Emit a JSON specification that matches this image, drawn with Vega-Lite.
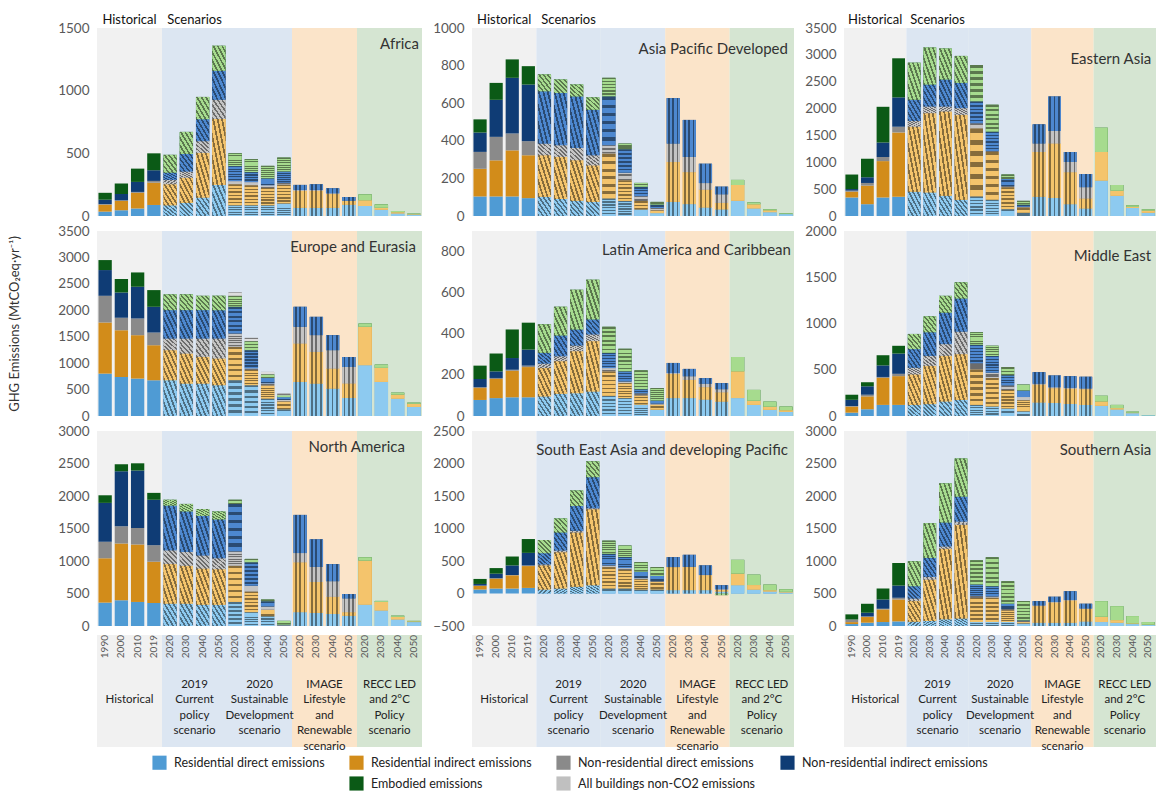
{
"$schema":"https://vega.github.io/schema/vega-lite/v6.json",
"padding":{"left":8,"top":13,"right":0,"bottom":0},
"datasets":{
"cats":[{"cat":"rd","o":1},{"cat":"ri","o":2},{"cat":"nrd","o":3},{"cat":"nri","o":4},{"cat":"emb","o":5},{"cat":"nc","o":6}],
"groups":[{"g":"H","lab":"|Historical"},{"g":"CP","lab":"2019|Current|policy|scenario"},{"g":"SD","lab":"2020|Sustainable|Development|scenario"},{"g":"IM","lab":"IMAGE|Lifestyle|and|Renewable|scenario"},{"g":"RE","lab":"RECC LED|and 2°C|Policy|scenario"}],
"bars":[
{"r":"AF","s":"H","k":"H1990","yr":"1990","rd":35,"ri":55,"nrd":5,"nri":35,"emb":55,"nc":0},
{"r":"AF","s":"H","k":"H2000","yr":"2000","rd":45,"ri":75,"nrd":5,"nri":50,"emb":85,"nc":0},
{"r":"AF","s":"H","k":"H2010","yr":"2010","rd":60,"ri":125,"nrd":7,"nri":80,"emb":106,"nc":0},
{"r":"AF","s":"H","k":"H2019","yr":"2019","rd":88,"ri":178,"nrd":14,"nri":85,"emb":135,"nc":0},
{"r":"AF","s":"CP","k":"CP2020","yr":"2020","rd":85,"ri":168,"nrd":35,"nri":58,"emb":142,"nc":0},
{"r":"AF","s":"CP","k":"CP2030","yr":"2030","rd":105,"ri":200,"nrd":50,"nri":140,"emb":176,"nc":0},
{"r":"AF","s":"CP","k":"CP2040","yr":"2040","rd":147,"ri":355,"nrd":95,"nri":175,"emb":178,"nc":0},
{"r":"AF","s":"CP","k":"CP2050","yr":"2050","rd":248,"ri":525,"nrd":154,"nri":232,"emb":200,"nc":0},
{"r":"AF","s":"SD","k":"SD2020","yr":"2020","rd":85,"ri":168,"nrd":25,"nri":120,"emb":102,"nc":0},
{"r":"AF","s":"SD","k":"SD2030","yr":"2030","rd":85,"ri":160,"nrd":25,"nri":80,"emb":103,"nc":0},
{"r":"AF","s":"SD","k":"SD2040","yr":"2040","rd":85,"ri":140,"nrd":20,"nri":55,"emb":100,"nc":0},
{"r":"AF","s":"SD","k":"SD2050","yr":"2050","rd":100,"ri":150,"nrd":15,"nri":90,"emb":111,"nc":0},
{"r":"AF","s":"IM","k":"IM2020","yr":"2020","rd":65,"ri":135,"nrd":8,"nri":40,"emb":0,"nc":0},
{"r":"AF","s":"IM","k":"IM2030","yr":"2030","rd":65,"ri":135,"nrd":8,"nri":45,"emb":0,"nc":0},
{"r":"AF","s":"IM","k":"IM2040","yr":"2040","rd":65,"ri":110,"nrd":6,"nri":40,"emb":0,"nc":0},
{"r":"AF","s":"IM","k":"IM2050","yr":"2050","rd":90,"ri":30,"nrd":2,"nri":30,"emb":0,"nc":0},
{"r":"AF","s":"RE","k":"RE2020","yr":"2020","rd":80,"ri":45,"nrd":0,"nri":0,"emb":48,"nc":0},
{"r":"AF","s":"RE","k":"RE2030","yr":"2030","rd":50,"ri":15,"nrd":0,"nri":0,"emb":28,"nc":0},
{"r":"AF","s":"RE","k":"RE2040","yr":"2040","rd":20,"ri":10,"nrd":0,"nri":0,"emb":10,"nc":0},
{"r":"AF","s":"RE","k":"RE2050","yr":"2050","rd":10,"ri":4,"nrd":0,"nri":0,"emb":5,"nc":0},
{"r":"AP","s":"H","k":"H1990","yr":"1990","rd":104,"ri":147,"nrd":90,"nri":103,"emb":70,"nc":0},
{"r":"AP","s":"H","k":"H2000","yr":"2000","rd":104,"ri":192,"nrd":125,"nri":197,"emb":90,"nc":0},
{"r":"AP","s":"H","k":"H2010","yr":"2010","rd":104,"ri":245,"nrd":90,"nri":296,"emb":98,"nc":0},
{"r":"AP","s":"H","k":"H2019","yr":"2019","rd":95,"ri":228,"nrd":75,"nri":301,"emb":98,"nc":0},
{"r":"AP","s":"CP","k":"CP2020","yr":"2020","rd":102,"ri":221,"nrd":62,"nri":278,"emb":90,"nc":0},
{"r":"AP","s":"CP","k":"CP2030","yr":"2030","rd":90,"ri":224,"nrd":62,"nri":278,"emb":72,"nc":0},
{"r":"AP","s":"CP","k":"CP2040","yr":"2040","rd":81,"ri":215,"nrd":66,"nri":274,"emb":63,"nc":0},
{"r":"AP","s":"CP","k":"CP2050","yr":"2050","rd":75,"ri":194,"nrd":54,"nri":242,"emb":66,"nc":0},
{"r":"AP","s":"SD","k":"SD2020","yr":"2020","rd":93,"ri":239,"nrd":44,"nri":260,"emb":99,"nc":0},
{"r":"AP","s":"SD","k":"SD2030","yr":"2030","rd":80,"ri":110,"nrd":40,"nri":125,"emb":30,"nc":0},
{"r":"AP","s":"SD","k":"SD2040","yr":"2040","rd":35,"ri":45,"nrd":25,"nri":50,"emb":21,"nc":0},
{"r":"AP","s":"SD","k":"SD2050","yr":"2050","rd":15,"ri":15,"nrd":12,"nri":18,"emb":15,"nc":0},
{"r":"AP","s":"IM","k":"IM2020","yr":"2020","rd":75,"ri":212,"nrd":98,"nri":242,"emb":0,"nc":0},
{"r":"AP","s":"IM","k":"IM2030","yr":"2030","rd":63,"ri":170,"nrd":81,"nri":197,"emb":0,"nc":0},
{"r":"AP","s":"IM","k":"IM2040","yr":"2040","rd":45,"ri":95,"nrd":35,"nri":103,"emb":0,"nc":0},
{"r":"AP","s":"IM","k":"IM2050","yr":"2050","rd":35,"ri":35,"nrd":45,"nri":41,"emb":0,"nc":0},
{"r":"AP","s":"RE","k":"RE2020","yr":"2020","rd":81,"ri":84,"nrd":0,"nri":0,"emb":27,"nc":0},
{"r":"AP","s":"RE","k":"RE2030","yr":"2030","rd":40,"ri":22,"nrd":0,"nri":0,"emb":10,"nc":0},
{"r":"AP","s":"RE","k":"RE2040","yr":"2040","rd":20,"ri":10,"nrd":0,"nri":0,"emb":6,"nc":0},
{"r":"AP","s":"RE","k":"RE2050","yr":"2050","rd":10,"ri":0,"nrd":0,"nri":0,"emb":4,"nc":0},
{"r":"EA","s":"H","k":"H1990","yr":"1990","rd":345,"ri":107,"nrd":20,"nri":30,"emb":270,"nc":0},
{"r":"EA","s":"H","k":"H2000","yr":"2000","rd":220,"ri":345,"nrd":50,"nri":106,"emb":345,"nc":0},
{"r":"EA","s":"H","k":"H2010","yr":"2010","rd":345,"ri":677,"nrd":76,"nri":270,"emb":665,"nc":0},
{"r":"EA","s":"H","k":"H2019","yr":"2019","rd":358,"ri":1198,"nrd":106,"nri":546,"emb":728,"nc":0},
{"r":"EA","s":"CP","k":"CP2020","yr":"2020","rd":452,"ri":1210,"nrd":107,"nri":395,"emb":690,"nc":0},
{"r":"EA","s":"CP","k":"CP2030","yr":"2030","rd":439,"ri":1474,"nrd":126,"nri":408,"emb":690,"nc":0},
{"r":"EA","s":"CP","k":"CP2040","yr":"2040","rd":376,"ri":1569,"nrd":94,"nri":502,"emb":577,"nc":0},
{"r":"EA","s":"CP","k":"CP2050","yr":"2050","rd":301,"ri":1581,"nrd":126,"nri":470,"emb":502,"nc":0},
{"r":"EA","s":"SD","k":"SD2020","yr":"2020","rd":364,"ri":1267,"nrd":94,"nri":408,"emb":678,"nc":0},
{"r":"EA","s":"SD","k":"SD2030","yr":"2030","rd":301,"ri":891,"nrd":20,"nri":356,"emb":502,"nc":0},
{"r":"EA","s":"SD","k":"SD2040","yr":"2040","rd":125,"ri":408,"nrd":20,"nri":137,"emb":82,"nc":0},
{"r":"EA","s":"SD","k":"SD2050","yr":"2050","rd":60,"ri":100,"nrd":10,"nri":40,"emb":72,"nc":0},
{"r":"EA","s":"IM","k":"IM2020","yr":"2020","rd":358,"ri":834,"nrd":157,"nri":357,"emb":0,"nc":0},
{"r":"EA","s":"IM","k":"IM2030","yr":"2030","rd":333,"ri":1016,"nrd":232,"nri":646,"emb":0,"nc":0},
{"r":"EA","s":"IM","k":"IM2040","yr":"2040","rd":220,"ri":596,"nrd":188,"nri":188,"emb":0,"nc":0},
{"r":"EA","s":"IM","k":"IM2050","yr":"2050","rd":138,"ri":188,"nrd":207,"nri":251,"emb":0,"nc":0},
{"r":"EA","s":"RE","k":"RE2020","yr":"2020","rd":659,"ri":533,"nrd":0,"nri":0,"emb":452,"nc":0},
{"r":"EA","s":"RE","k":"RE2030","yr":"2030","rd":376,"ri":94,"nrd":0,"nri":0,"emb":107,"nc":0},
{"r":"EA","s":"RE","k":"RE2040","yr":"2040","rd":150,"ri":20,"nrd":0,"nri":0,"emb":30,"nc":0},
{"r":"EA","s":"RE","k":"RE2050","yr":"2050","rd":60,"ri":40,"nrd":0,"nri":0,"emb":25,"nc":0},
{"r":"EU","s":"H","k":"H1990","yr":"1990","rd":802,"ri":967,"nrd":505,"nri":487,"emb":189,"nc":0},
{"r":"EU","s":"H","k":"H2000","yr":"2000","rd":739,"ri":885,"nrd":233,"nri":480,"emb":253,"nc":0},
{"r":"EU","s":"H","k":"H2010","yr":"2010","rd":708,"ri":821,"nrd":316,"nri":600,"emb":271,"nc":0},
{"r":"EU","s":"H","k":"H2019","yr":"2019","rd":676,"ri":663,"nrd":240,"nri":487,"emb":316,"nc":0},
{"r":"EU","s":"CP","k":"CP2020","yr":"2020","rd":676,"ri":569,"nrd":221,"nri":537,"emb":297,"nc":0},
{"r":"EU","s":"CP","k":"CP2030","yr":"2030","rd":613,"ri":568,"nrd":285,"nri":537,"emb":297,"nc":0},
{"r":"EU","s":"CP","k":"CP2040","yr":"2040","rd":613,"ri":505,"nrd":348,"nri":537,"emb":271,"nc":0},
{"r":"EU","s":"CP","k":"CP2050","yr":"2050","rd":581,"ri":506,"nrd":379,"nri":537,"emb":271,"nc":0},
{"r":"EU","s":"SD","k":"SD2020","yr":"2020","rd":676,"ri":632,"nrd":252,"nri":506,"emb":208,"nc":63},
{"r":"EU","s":"SD","k":"SD2030","yr":"2030","rd":581,"ri":290,"nrd":30,"nri":343,"emb":171,"nc":63},
{"r":"EU","s":"SD","k":"SD2040","yr":"2040","rd":328,"ri":250,"nrd":40,"nri":100,"emb":70,"nc":46},
{"r":"EU","s":"SD","k":"SD2050","yr":"2050","rd":126,"ri":150,"nrd":30,"nri":50,"emb":35,"nc":32},
{"r":"EU","s":"IM","k":"IM2020","yr":"2020","rd":644,"ri":727,"nrd":316,"nri":379,"emb":0,"nc":0},
{"r":"EU","s":"IM","k":"IM2030","yr":"2030","rd":613,"ri":600,"nrd":316,"nri":347,"emb":0,"nc":0},
{"r":"EU","s":"IM","k":"IM2040","yr":"2040","rd":518,"ri":379,"nrd":347,"nri":285,"emb":0,"nc":0},
{"r":"EU","s":"IM","k":"IM2050","yr":"2050","rd":341,"ri":272,"nrd":316,"nri":189,"emb":0,"nc":0},
{"r":"EU","s":"RE","k":"RE2020","yr":"2020","rd":960,"ri":727,"nrd":0,"nri":0,"emb":63,"nc":0},
{"r":"EU","s":"RE","k":"RE2030","yr":"2030","rd":644,"ri":266,"nrd":0,"nri":0,"emb":63,"nc":0},
{"r":"EU","s":"RE","k":"RE2040","yr":"2040","rd":328,"ri":76,"nrd":0,"nri":0,"emb":38,"nc":0},
{"r":"EU","s":"RE","k":"RE2050","yr":"2050","rd":171,"ri":60,"nrd":0,"nri":0,"emb":22,"nc":0},
{"r":"LA","s":"H","k":"H1990","yr":"1990","rd":78,"ri":58,"nrd":5,"nri":39,"emb":65,"nc":0},
{"r":"LA","s":"H","k":"H2000","yr":"2000","rd":87,"ri":93,"nrd":5,"nri":32,"emb":87,"nc":0},
{"r":"LA","s":"H","k":"H2010","yr":"2010","rd":91,"ri":129,"nrd":5,"nri":57,"emb":139,"nc":0},
{"r":"LA","s":"H","k":"H2019","yr":"2019","rd":91,"ri":147,"nrd":7,"nri":78,"emb":131,"nc":0},
{"r":"LA","s":"CP","k":"CP2020","yr":"2020","rd":95,"ri":138,"nrd":22,"nri":52,"emb":139,"nc":0},
{"r":"LA","s":"CP","k":"CP2030","yr":"2030","rd":108,"ri":158,"nrd":25,"nri":101,"emb":140,"nc":0},
{"r":"LA","s":"CP","k":"CP2040","yr":"2040","rd":111,"ri":204,"nrd":28,"nri":78,"emb":193,"nc":0},
{"r":"LA","s":"CP","k":"CP2050","yr":"2050","rd":119,"ri":245,"nrd":33,"nri":73,"emb":193,"nc":0},
{"r":"LA","s":"SD","k":"SD2020","yr":"2020","rd":98,"ri":119,"nrd":16,"nri":74,"emb":127,"nc":0},
{"r":"LA","s":"SD","k":"SD2030","yr":"2030","rd":87,"ri":73,"nrd":8,"nri":49,"emb":110,"nc":0},
{"r":"LA","s":"SD","k":"SD2040","yr":"2040","rd":55,"ri":45,"nrd":10,"nri":20,"emb":92,"nc":0},
{"r":"LA","s":"SD","k":"SD2050","yr":"2050","rd":30,"ri":25,"nrd":5,"nri":15,"emb":61,"nc":0},
{"r":"LA","s":"IM","k":"IM2020","yr":"2020","rd":87,"ri":117,"nrd":5,"nri":49,"emb":0,"nc":0},
{"r":"LA","s":"IM","k":"IM2030","yr":"2030","rd":87,"ri":89,"nrd":17,"nri":36,"emb":0,"nc":0},
{"r":"LA","s":"IM","k":"IM2040","yr":"2040","rd":80,"ri":60,"nrd":17,"nri":27,"emb":0,"nc":0},
{"r":"LA","s":"IM","k":"IM2050","yr":"2050","rd":70,"ri":45,"nrd":15,"nri":30,"emb":0,"nc":0},
{"r":"LA","s":"RE","k":"RE2020","yr":"2020","rd":87,"ri":130,"nrd":0,"nri":0,"emb":70,"nc":0},
{"r":"LA","s":"RE","k":"RE2030","yr":"2030","rd":54,"ri":20,"nrd":0,"nri":0,"emb":53,"nc":0},
{"r":"LA","s":"RE","k":"RE2040","yr":"2040","rd":30,"ri":15,"nrd":0,"nri":0,"emb":25,"nc":0},
{"r":"LA","s":"RE","k":"RE2050","yr":"2050","rd":20,"ri":8,"nrd":0,"nri":0,"emb":18,"nc":0},
{"r":"ME","s":"H","k":"H1990","yr":"1990","rd":36,"ri":66,"nrd":5,"nri":68,"emb":55,"nc":0},
{"r":"ME","s":"H","k":"H2000","yr":"2000","rd":73,"ri":139,"nrd":18,"nri":91,"emb":44,"nc":0},
{"r":"ME","s":"H","k":"H2010","yr":"2010","rd":120,"ri":292,"nrd":10,"nri":125,"emb":110,"nc":0},
{"r":"ME","s":"H","k":"H2019","yr":"2019","rd":120,"ri":311,"nrd":25,"nri":219,"emb":84,"nc":0},
{"r":"ME","s":"CP","k":"CP2020","yr":"2020","rd":120,"ri":329,"nrd":73,"nri":201,"emb":164,"nc":0},
{"r":"ME","s":"CP","k":"CP2030","yr":"2030","rd":128,"ri":412,"nrd":110,"nri":255,"emb":172,"nc":0},
{"r":"ME","s":"CP","k":"CP2040","yr":"2040","rd":157,"ri":493,"nrd":127,"nri":340,"emb":182,"nc":0},
{"r":"ME","s":"CP","k":"CP2050","yr":"2050","rd":175,"ri":493,"nrd":244,"nri":358,"emb":175,"nc":0},
{"r":"ME","s":"SD","k":"SD2020","yr":"2020","rd":120,"ri":384,"nrd":65,"nri":200,"emb":136,"nc":0},
{"r":"ME","s":"SD","k":"SD2030","yr":"2030","rd":102,"ri":310,"nrd":55,"nri":183,"emb":109,"nc":0},
{"r":"ME","s":"SD","k":"SD2040","yr":"2040","rd":80,"ri":200,"nrd":50,"nri":110,"emb":89,"nc":0},
{"r":"ME","s":"SD","k":"SD2050","yr":"2050","rd":50,"ri":120,"nrd":35,"nri":70,"emb":64,"nc":0},
{"r":"ME","s":"IM","k":"IM2020","yr":"2020","rd":146,"ri":193,"nrd":10,"nri":125,"emb":0,"nc":0},
{"r":"ME","s":"IM","k":"IM2030","yr":"2030","rd":140,"ri":160,"nrd":10,"nri":128,"emb":0,"nc":0},
{"r":"ME","s":"IM","k":"IM2040","yr":"2040","rd":130,"ri":165,"nrd":10,"nri":126,"emb":0,"nc":0},
{"r":"ME","s":"IM","k":"IM2050","yr":"2050","rd":120,"ri":170,"nrd":8,"nri":125,"emb":0,"nc":0},
{"r":"ME","s":"RE","k":"RE2020","yr":"2020","rd":110,"ri":47,"nrd":0,"nri":0,"emb":62,"nc":0},
{"r":"ME","s":"RE","k":"RE2030","yr":"2030","rd":70,"ri":15,"nrd":0,"nri":0,"emb":35,"nc":0},
{"r":"ME","s":"RE","k":"RE2040","yr":"2040","rd":30,"ri":5,"nrd":0,"nri":0,"emb":12,"nc":0},
{"r":"ME","s":"RE","k":"RE2050","yr":"2050","rd":8,"ri":0,"nrd":0,"nri":0,"emb":3,"nc":0},
{"r":"NA","s":"H","k":"H1990","yr":"1990","rd":360,"ri":682,"nrd":254,"nri":598,"emb":117,"nc":0},
{"r":"NA","s":"H","k":"H2000","yr":"2000","rd":397,"ri":873,"nrd":264,"nri":847,"emb":106,"nc":0},
{"r":"NA","s":"H","k":"H2010","yr":"2010","rd":370,"ri":884,"nrd":254,"nri":884,"emb":111,"nc":0},
{"r":"NA","s":"H","k":"H2019","yr":"2019","rd":354,"ri":635,"nrd":254,"nri":699,"emb":106,"nc":0},
{"r":"NA","s":"CP","k":"CP2020","yr":"2020","rd":344,"ri":608,"nrd":212,"nri":688,"emb":90,"nc":0},
{"r":"NA","s":"CP","k":"CP2030","yr":"2030","rd":344,"ri":582,"nrd":212,"nri":624,"emb":116,"nc":0},
{"r":"NA","s":"CP","k":"CP2040","yr":"2040","rd":328,"ri":556,"nrd":201,"nri":608,"emb":106,"nc":0},
{"r":"NA","s":"CP","k":"CP2050","yr":"2050","rd":328,"ri":545,"nrd":169,"nri":598,"emb":122,"nc":0},
{"r":"NA","s":"SD","k":"SD2020","yr":"2020","rd":370,"ri":556,"nrd":222,"nri":730,"emb":64,"nc":0},
{"r":"NA","s":"SD","k":"SD2030","yr":"2030","rd":212,"ri":317,"nrd":90,"nri":360,"emb":53,"nc":0},
{"r":"NA","s":"SD","k":"SD2040","yr":"2040","rd":150,"ri":100,"nrd":50,"nri":80,"emb":27,"nc":0},
{"r":"NA","s":"SD","k":"SD2050","yr":"2050","rd":5,"ri":5,"nrd":0,"nri":10,"emb":59,"nc":0},
{"r":"NA","s":"IM","k":"IM2020","yr":"2020","rd":212,"ri":767,"nrd":143,"nri":587,"emb":0,"nc":0},
{"r":"NA","s":"IM","k":"IM2030","yr":"2030","rd":201,"ri":476,"nrd":233,"nri":423,"emb":0,"nc":0},
{"r":"NA","s":"IM","k":"IM2040","yr":"2040","rd":185,"ri":265,"nrd":238,"nri":264,"emb":0,"nc":0},
{"r":"NA","s":"IM","k":"IM2050","yr":"2050","rd":159,"ri":53,"nrd":211,"nri":69,"emb":0,"nc":0},
{"r":"NA","s":"RE","k":"RE2020","yr":"2020","rd":328,"ri":677,"nrd":0,"nri":0,"emb":53,"nc":0},
{"r":"NA","s":"RE","k":"RE2030","yr":"2030","rd":238,"ri":132,"nrd":0,"nri":0,"emb":16,"nc":0},
{"r":"NA","s":"RE","k":"RE2040","yr":"2040","rd":100,"ri":40,"nrd":0,"nri":0,"emb":19,"nc":0},
{"r":"NA","s":"RE","k":"RE2050","yr":"2050","rd":60,"ri":10,"nrd":0,"nri":0,"emb":9,"nc":0},
{"r":"SE","s":"H","k":"H1990","yr":"1990","rd":61,"ri":56,"nrd":5,"nri":25,"emb":77,"nc":0},
{"r":"SE","s":"H","k":"H2000","yr":"2000","rd":76,"ri":153,"nrd":5,"nri":71,"emb":86,"nc":0},
{"r":"SE","s":"H","k":"H2010","yr":"2010","rd":76,"ri":204,"nrd":5,"nri":147,"emb":137,"nc":0},
{"r":"SE","s":"H","k":"H2019","yr":"2019","rd":86,"ri":336,"nrd":10,"nri":193,"emb":213,"nc":0},
{"r":"SE","s":"CP","k":"CP2020","yr":"2020","rd":61,"ri":371,"nrd":15,"nri":173,"emb":203,"nc":0},
{"r":"SE","s":"CP","k":"CP2030","yr":"2030","rd":76,"ri":559,"nrd":25,"nri":280,"emb":213,"nc":0},
{"r":"SE","s":"CP","k":"CP2040","yr":"2040","rd":102,"ri":838,"nrd":25,"nri":381,"emb":239,"nc":0},
{"r":"SE","s":"CP","k":"CP2050","yr":"2050","rd":127,"ri":1169,"nrd":15,"nri":478,"emb":244,"nc":0},
{"r":"SE","s":"SD","k":"SD2020","yr":"2020","rd":76,"ri":330,"nrd":26,"nri":178,"emb":203,"nc":0},
{"r":"SE","s":"SD","k":"SD2030","yr":"2030","rd":76,"ri":290,"nrd":25,"nri":170,"emb":176,"nc":0},
{"r":"SE","s":"SD","k":"SD2040","yr":"2040","rd":60,"ri":160,"nrd":15,"nri":100,"emb":148,"nc":0},
{"r":"SE","s":"SD","k":"SD2050","yr":"2050","rd":60,"ri":120,"nrd":10,"nri":80,"emb":136,"nc":0},
{"r":"SE","s":"IM","k":"IM2020","yr":"2020","rd":51,"ri":355,"nrd":0,"nri":153,"emb":0,"nc":0},
{"r":"SE","s":"IM","k":"IM2030","yr":"2030","rd":51,"ri":355,"nrd":5,"nri":184,"emb":0,"nc":0},
{"r":"SE","s":"IM","k":"IM2040","yr":"2040","rd":51,"ri":230,"nrd":5,"nri":146,"emb":0,"nc":0},
{"r":"SE","s":"IM","k":"IM2050","yr":"2050","rd":30,"ri":25,"nrd":10,"nri":62,"emb":-25,"nc":0},
{"r":"SE","s":"RE","k":"RE2020","yr":"2020","rd":127,"ri":178,"nrd":0,"nri":0,"emb":213,"nc":0},
{"r":"SE","s":"RE","k":"RE2030","yr":"2030","rd":60,"ri":70,"nrd":0,"nri":0,"emb":160,"nc":0},
{"r":"SE","s":"RE","k":"RE2040","yr":"2040","rd":30,"ri":20,"nrd":0,"nri":0,"emb":87,"nc":0},
{"r":"SE","s":"RE","k":"RE2050","yr":"2050","rd":15,"ri":10,"nrd":0,"nri":0,"emb":41,"nc":0},
{"r":"SA","s":"H","k":"H1990","yr":"1990","rd":30,"ri":30,"nrd":40,"nri":0,"emb":79,"nc":0},
{"r":"SA","s":"H","k":"H2000","yr":"2000","rd":51,"ri":87,"nrd":10,"nri":56,"emb":138,"nc":0},
{"r":"SA","s":"H","k":"H2010","yr":"2010","rd":61,"ri":194,"nrd":10,"nri":143,"emb":169,"nc":0},
{"r":"SA","s":"H","k":"H2019","yr":"2019","rd":71,"ri":337,"nrd":26,"nri":188,"emb":347,"nc":0},
{"r":"SA","s":"CP","k":"CP2020","yr":"2020","rd":66,"ri":317,"nrd":40,"nri":189,"emb":383,"nc":0},
{"r":"SA","s":"CP","k":"CP2030","yr":"2030","rd":77,"ri":637,"nrd":41,"nri":291,"emb":536,"nc":0},
{"r":"SA","s":"CP","k":"CP2040","yr":"2040","rd":102,"ri":1087,"nrd":35,"nri":368,"emb":602,"nc":0},
{"r":"SA","s":"CP","k":"CP2050","yr":"2050","rd":117,"ri":1439,"nrd":51,"nri":383,"emb":587,"nc":0},
{"r":"SA","s":"SD","k":"SD2020","yr":"2020","rd":61,"ri":373,"nrd":30,"nri":174,"emb":372,"nc":0},
{"r":"SA","s":"SD","k":"SD2030","yr":"2030","rd":61,"ri":373,"nrd":20,"nri":158,"emb":444,"nc":0},
{"r":"SA","s":"SD","k":"SD2040","yr":"2040","rd":61,"ri":180,"nrd":20,"nri":80,"emb":348,"nc":0},
{"r":"SA","s":"SD","k":"SD2050","yr":"2050","rd":40,"ri":20,"nrd":15,"nri":10,"emb":298,"nc":0},
{"r":"SA","s":"IM","k":"IM2020","yr":"2020","rd":51,"ri":255,"nrd":10,"nri":67,"emb":0,"nc":0},
{"r":"SA","s":"IM","k":"IM2030","yr":"2030","rd":51,"ri":310,"nrd":10,"nri":78,"emb":0,"nc":0},
{"r":"SA","s":"IM","k":"IM2040","yr":"2040","rd":51,"ri":340,"nrd":10,"nri":135,"emb":0,"nc":0},
{"r":"SA","s":"IM","k":"IM2050","yr":"2050","rd":70,"ri":190,"nrd":10,"nri":72,"emb":0,"nc":0},
{"r":"SA","s":"RE","k":"RE2020","yr":"2020","rd":61,"ri":80,"nrd":0,"nri":0,"emb":242,"nc":0},
{"r":"SA","s":"RE","k":"RE2030","yr":"2030","rd":50,"ri":40,"nrd":0,"nri":0,"emb":216,"nc":0},
{"r":"SA","s":"RE","k":"RE2040","yr":"2040","rd":30,"ri":10,"nrd":0,"nri":0,"emb":113,"nc":0},
{"r":"SA","s":"RE","k":"RE2050","yr":"2050","rd":15,"ri":5,"nrd":0,"nri":0,"emb":41,"nc":0}
]},
"vconcat":[
{"hconcat":[
{"width":325,"height":188,"layer":[
{"data":{"name":"groups"},"mark":{"type":"bar","opacity":0.75},"encoding":{"x":{"field":"g","type":"nominal","scale":{"domain":["H","CP","SD","IM","RE"],"paddingInner":0,"paddingOuter":0},"axis":{"orient":"top","title":null,"ticks":false,"domain":false,"labelAngle":0,"labelFontSize":13,"labelColor":"#111","labelPadding":2,"labelOverlap":false,"labelExpr":"datum.value=='H'?'Historical':datum.value=='CP'?'Scenarios':''"}},"y":{"datum":1500,"type":"quantitative"},"y2":{"datum":0},"color":{"condition":[{"test":"datum.g=='H'","value":"#ececec"},{"test":"datum.g=='IM'","value":"#fadbb7"},{"test":"datum.g=='RE'","value":"#c7dcc3"}],"value":"#d0deee"}}},
{"data":{"name":"bars"},"transform":[{"filter":"datum.r=='AF'"},{"fold":["rd","ri","nrd","nri","emb","nc"],"as":["cat","v"]},{"lookup":"cat","from":{"data":{"name":"cats"},"key":"cat","fields":["o"]}}],"layer":[
{"mark":"bar","encoding":{"x":{"field":"k","type":"nominal","scale":{"domain":["H1990","H2000","H2010","H2019","CP2020","CP2030","CP2040","CP2050","SD2020","SD2030","SD2040","SD2050","IM2020","IM2030","IM2040","IM2050","RE2020","RE2030","RE2040","RE2050"],"paddingInner":0.18,"paddingOuter":0.09},"axis":null},"y":{"field":"v","type":"quantitative","scale":{"domain":[0,1500],"nice":false},"axis":{"values":[0,500,1000,1500],"tickCount":12,"labelOverlap":false,"title":"G","titleColor":"transparent","titleFontSize":13,"titlePadding":36}},"order":{"field":"o","type":"quantitative"},"color":{"field":"cat","type":"nominal","scale":{"domain":["rd","ri","nrd","nri","_","emb","nc"],"range":["#4f9bd4","#d28c1a","#8a8a8a","#0f3c75","rgba(0,0,0,0)","#0b5a16","#c0c0c0"]},"legend":{"title":null,"orient":"none","legendX":55,"legendY":727,"columns":4,"direction":"horizontal","labelExpr":"datum.label=='rd'?'Residential direct emissions':datum.label=='ri'?'Residential indirect emissions':datum.label=='nrd'?'Non-residential direct emissions':datum.label=='nri'?'Non-residential indirect emissions':datum.label=='emb'?'Embodied emissions':datum.label=='nc'?'All buildings non-CO2 emissions':''"}}}},
{"transform":[{"filter":"datum.s!='H'"}],"mark":"bar","encoding":{"x":{"field":"k","type":"nominal"},"y":{"field":"v","type":"quantitative"},"order":{"field":"o","type":"quantitative"},"detail":{"field":"cat","type":"nominal"},"color":{"condition":[{"test":"datum.cat=='rd'","value":"#8dcaf0"},{"test":"datum.cat=='ri'","value":"#f4c46c"},{"test":"datum.cat=='nrd'","value":"#c4c4c4"},{"test":"datum.cat=='nri'","value":"#4d88d0"},{"test":"datum.cat=='emb'","value":"#a6db8e"}],"value":"#dddddd"}}},
{"transform":[{"filter":"datum.s!='H'&&datum.s!='RE'"}],"mark":"bar","encoding":{"x":{"field":"k","type":"nominal"},"y":{"field":"v","type":"quantitative"},"order":{"field":"o","type":"quantitative"},"detail":{"field":"cat","type":"nominal"},"color":{"condition":[{"test":"datum.s=='CP'","value":{"gradient":"linear","x1":0,"y1":1,"x2":1,"y2":0,"stops":[{"offset":0,"color":"rgba(0,0,0,0.45)"},{"offset":0.07,"color":"rgba(0,0,0,0.45)"},{"offset":0.07,"color":"transparent"},{"offset":0.1667,"color":"transparent"},{"offset":0.1667,"color":"rgba(0,0,0,0.45)"},{"offset":0.2367,"color":"rgba(0,0,0,0.45)"},{"offset":0.2367,"color":"transparent"},{"offset":0.3333,"color":"transparent"},{"offset":0.3333,"color":"rgba(0,0,0,0.45)"},{"offset":0.4033,"color":"rgba(0,0,0,0.45)"},{"offset":0.4033,"color":"transparent"},{"offset":0.5,"color":"transparent"},{"offset":0.5,"color":"rgba(0,0,0,0.45)"},{"offset":0.57,"color":"rgba(0,0,0,0.45)"},{"offset":0.57,"color":"transparent"},{"offset":0.6667,"color":"transparent"},{"offset":0.6667,"color":"rgba(0,0,0,0.45)"},{"offset":0.7367,"color":"rgba(0,0,0,0.45)"},{"offset":0.7367,"color":"transparent"},{"offset":0.8333,"color":"transparent"},{"offset":0.8333,"color":"rgba(0,0,0,0.45)"},{"offset":0.9033,"color":"rgba(0,0,0,0.45)"},{"offset":0.9033,"color":"transparent"},{"offset":1,"color":"transparent"}]}},{"test":"datum.s=='SD'","value":{"gradient":"linear","x1":0,"y1":0,"x2":0,"y2":1,"stops":[{"offset":0,"color":"rgba(0,0,0,0.45)"},{"offset":0.07,"color":"rgba(0,0,0,0.45)"},{"offset":0.07,"color":"transparent"},{"offset":0.1667,"color":"transparent"},{"offset":0.1667,"color":"rgba(0,0,0,0.45)"},{"offset":0.2367,"color":"rgba(0,0,0,0.45)"},{"offset":0.2367,"color":"transparent"},{"offset":0.3333,"color":"transparent"},{"offset":0.3333,"color":"rgba(0,0,0,0.45)"},{"offset":0.4033,"color":"rgba(0,0,0,0.45)"},{"offset":0.4033,"color":"transparent"},{"offset":0.5,"color":"transparent"},{"offset":0.5,"color":"rgba(0,0,0,0.45)"},{"offset":0.57,"color":"rgba(0,0,0,0.45)"},{"offset":0.57,"color":"transparent"},{"offset":0.6667,"color":"transparent"},{"offset":0.6667,"color":"rgba(0,0,0,0.45)"},{"offset":0.7367,"color":"rgba(0,0,0,0.45)"},{"offset":0.7367,"color":"transparent"},{"offset":0.8333,"color":"transparent"},{"offset":0.8333,"color":"rgba(0,0,0,0.45)"},{"offset":0.9033,"color":"rgba(0,0,0,0.45)"},{"offset":0.9033,"color":"transparent"},{"offset":1,"color":"transparent"}]}}],"value":{"gradient":"linear","x1":0,"y1":0,"x2":1,"y2":0,"stops":[{"offset":0,"color":"transparent"},{"offset":0.1,"color":"transparent"},{"offset":0.1,"color":"rgba(0,0,0,0.45)"},{"offset":0.23,"color":"rgba(0,0,0,0.45)"},{"offset":0.23,"color":"transparent"},{"offset":0.43,"color":"transparent"},{"offset":0.43,"color":"rgba(0,0,0,0.45)"},{"offset":0.56,"color":"rgba(0,0,0,0.45)"},{"offset":0.56,"color":"transparent"},{"offset":0.76,"color":"transparent"},{"offset":0.76,"color":"rgba(0,0,0,0.45)"},{"offset":0.89,"color":"rgba(0,0,0,0.45)"},{"offset":0.89,"color":"transparent"},{"offset":1,"color":"transparent"}]}}}},
{"data":{"values":[{}]},"mark":{"type":"text","align":"right","baseline":"top","dx":5,"dy":9,"fontSize":15,"color":"#333"},"encoding":{"x":{"datum":"RE2050","type":"nominal"},"y":{"datum":1500,"type":"quantitative"},"text":{"value":"Africa"}}}
]}
],"resolve":{"scale":{"x":"independent"}}},
{"width":322,"height":188,"layer":[
{"data":{"name":"groups"},"mark":{"type":"bar","opacity":0.75},"encoding":{"x":{"field":"g","type":"nominal","scale":{"domain":["H","CP","SD","IM","RE"],"paddingInner":0,"paddingOuter":0},"axis":{"orient":"top","title":null,"ticks":false,"domain":false,"labelAngle":0,"labelFontSize":13,"labelColor":"#111","labelPadding":2,"labelOverlap":false,"labelExpr":"datum.value=='H'?'Historical':datum.value=='CP'?'Scenarios':''"}},"y":{"datum":1000,"type":"quantitative"},"y2":{"datum":0},"color":{"condition":[{"test":"datum.g=='H'","value":"#ececec"},{"test":"datum.g=='IM'","value":"#fadbb7"},{"test":"datum.g=='RE'","value":"#c7dcc3"}],"value":"#d0deee"}}},
{"data":{"name":"bars"},"transform":[{"filter":"datum.r=='AP'"},{"fold":["rd","ri","nrd","nri","emb","nc"],"as":["cat","v"]},{"lookup":"cat","from":{"data":{"name":"cats"},"key":"cat","fields":["o"]}}],"layer":[
{"mark":"bar","encoding":{"x":{"field":"k","type":"nominal","scale":{"domain":["H1990","H2000","H2010","H2019","CP2020","CP2030","CP2040","CP2050","SD2020","SD2030","SD2040","SD2050","IM2020","IM2030","IM2040","IM2050","RE2020","RE2030","RE2040","RE2050"],"paddingInner":0.18,"paddingOuter":0.09},"axis":null},"y":{"field":"v","type":"quantitative","scale":{"domain":[0,1000],"nice":false},"axis":{"values":[0,200,400,600,800,1000],"tickCount":12,"labelOverlap":false,"title":null}},"order":{"field":"o","type":"quantitative"},"color":{"field":"cat","type":"nominal","scale":{"domain":["rd","ri","nrd","nri","_","emb","nc"],"range":["#4f9bd4","#d28c1a","#8a8a8a","#0f3c75","rgba(0,0,0,0)","#0b5a16","#c0c0c0"]},"legend":{"title":null,"orient":"none","legendX":55,"legendY":727,"columns":4,"direction":"horizontal","labelExpr":"datum.label=='rd'?'Residential direct emissions':datum.label=='ri'?'Residential indirect emissions':datum.label=='nrd'?'Non-residential direct emissions':datum.label=='nri'?'Non-residential indirect emissions':datum.label=='emb'?'Embodied emissions':datum.label=='nc'?'All buildings non-CO2 emissions':''"}}}},
{"transform":[{"filter":"datum.s!='H'"}],"mark":"bar","encoding":{"x":{"field":"k","type":"nominal"},"y":{"field":"v","type":"quantitative"},"order":{"field":"o","type":"quantitative"},"detail":{"field":"cat","type":"nominal"},"color":{"condition":[{"test":"datum.cat=='rd'","value":"#8dcaf0"},{"test":"datum.cat=='ri'","value":"#f4c46c"},{"test":"datum.cat=='nrd'","value":"#c4c4c4"},{"test":"datum.cat=='nri'","value":"#4d88d0"},{"test":"datum.cat=='emb'","value":"#a6db8e"}],"value":"#dddddd"}}},
{"transform":[{"filter":"datum.s!='H'&&datum.s!='RE'"}],"mark":"bar","encoding":{"x":{"field":"k","type":"nominal"},"y":{"field":"v","type":"quantitative"},"order":{"field":"o","type":"quantitative"},"detail":{"field":"cat","type":"nominal"},"color":{"condition":[{"test":"datum.s=='CP'","value":{"gradient":"linear","x1":0,"y1":1,"x2":1,"y2":0,"stops":[{"offset":0,"color":"rgba(0,0,0,0.45)"},{"offset":0.07,"color":"rgba(0,0,0,0.45)"},{"offset":0.07,"color":"transparent"},{"offset":0.1667,"color":"transparent"},{"offset":0.1667,"color":"rgba(0,0,0,0.45)"},{"offset":0.2367,"color":"rgba(0,0,0,0.45)"},{"offset":0.2367,"color":"transparent"},{"offset":0.3333,"color":"transparent"},{"offset":0.3333,"color":"rgba(0,0,0,0.45)"},{"offset":0.4033,"color":"rgba(0,0,0,0.45)"},{"offset":0.4033,"color":"transparent"},{"offset":0.5,"color":"transparent"},{"offset":0.5,"color":"rgba(0,0,0,0.45)"},{"offset":0.57,"color":"rgba(0,0,0,0.45)"},{"offset":0.57,"color":"transparent"},{"offset":0.6667,"color":"transparent"},{"offset":0.6667,"color":"rgba(0,0,0,0.45)"},{"offset":0.7367,"color":"rgba(0,0,0,0.45)"},{"offset":0.7367,"color":"transparent"},{"offset":0.8333,"color":"transparent"},{"offset":0.8333,"color":"rgba(0,0,0,0.45)"},{"offset":0.9033,"color":"rgba(0,0,0,0.45)"},{"offset":0.9033,"color":"transparent"},{"offset":1,"color":"transparent"}]}},{"test":"datum.s=='SD'","value":{"gradient":"linear","x1":0,"y1":0,"x2":0,"y2":1,"stops":[{"offset":0,"color":"rgba(0,0,0,0.45)"},{"offset":0.07,"color":"rgba(0,0,0,0.45)"},{"offset":0.07,"color":"transparent"},{"offset":0.1667,"color":"transparent"},{"offset":0.1667,"color":"rgba(0,0,0,0.45)"},{"offset":0.2367,"color":"rgba(0,0,0,0.45)"},{"offset":0.2367,"color":"transparent"},{"offset":0.3333,"color":"transparent"},{"offset":0.3333,"color":"rgba(0,0,0,0.45)"},{"offset":0.4033,"color":"rgba(0,0,0,0.45)"},{"offset":0.4033,"color":"transparent"},{"offset":0.5,"color":"transparent"},{"offset":0.5,"color":"rgba(0,0,0,0.45)"},{"offset":0.57,"color":"rgba(0,0,0,0.45)"},{"offset":0.57,"color":"transparent"},{"offset":0.6667,"color":"transparent"},{"offset":0.6667,"color":"rgba(0,0,0,0.45)"},{"offset":0.7367,"color":"rgba(0,0,0,0.45)"},{"offset":0.7367,"color":"transparent"},{"offset":0.8333,"color":"transparent"},{"offset":0.8333,"color":"rgba(0,0,0,0.45)"},{"offset":0.9033,"color":"rgba(0,0,0,0.45)"},{"offset":0.9033,"color":"transparent"},{"offset":1,"color":"transparent"}]}}],"value":{"gradient":"linear","x1":0,"y1":0,"x2":1,"y2":0,"stops":[{"offset":0,"color":"transparent"},{"offset":0.1,"color":"transparent"},{"offset":0.1,"color":"rgba(0,0,0,0.45)"},{"offset":0.23,"color":"rgba(0,0,0,0.45)"},{"offset":0.23,"color":"transparent"},{"offset":0.43,"color":"transparent"},{"offset":0.43,"color":"rgba(0,0,0,0.45)"},{"offset":0.56,"color":"rgba(0,0,0,0.45)"},{"offset":0.56,"color":"transparent"},{"offset":0.76,"color":"transparent"},{"offset":0.76,"color":"rgba(0,0,0,0.45)"},{"offset":0.89,"color":"rgba(0,0,0,0.45)"},{"offset":0.89,"color":"transparent"},{"offset":1,"color":"transparent"}]}}}},
{"data":{"values":[{}]},"mark":{"type":"text","align":"right","baseline":"top","dx":2,"dy":14,"fontSize":15,"color":"#333"},"encoding":{"x":{"datum":"RE2050","type":"nominal"},"y":{"datum":1000,"type":"quantitative"},"text":{"value":"Asia Pacific Developed"}}}
]}
],"resolve":{"scale":{"x":"independent"}}},
{"width":312,"height":188,"layer":[
{"data":{"name":"groups"},"mark":{"type":"bar","opacity":0.75},"encoding":{"x":{"field":"g","type":"nominal","scale":{"domain":["H","CP","SD","IM","RE"],"paddingInner":0,"paddingOuter":0},"axis":{"orient":"top","title":null,"ticks":false,"domain":false,"labelAngle":0,"labelFontSize":13,"labelColor":"#111","labelPadding":2,"labelOverlap":false,"labelExpr":"datum.value=='H'?'Historical':datum.value=='CP'?'Scenarios':''"}},"y":{"datum":3500,"type":"quantitative"},"y2":{"datum":0},"color":{"condition":[{"test":"datum.g=='H'","value":"#ececec"},{"test":"datum.g=='IM'","value":"#fadbb7"},{"test":"datum.g=='RE'","value":"#c7dcc3"}],"value":"#d0deee"}}},
{"data":{"name":"bars"},"transform":[{"filter":"datum.r=='EA'"},{"fold":["rd","ri","nrd","nri","emb","nc"],"as":["cat","v"]},{"lookup":"cat","from":{"data":{"name":"cats"},"key":"cat","fields":["o"]}}],"layer":[
{"mark":"bar","encoding":{"x":{"field":"k","type":"nominal","scale":{"domain":["H1990","H2000","H2010","H2019","CP2020","CP2030","CP2040","CP2050","SD2020","SD2030","SD2040","SD2050","IM2020","IM2030","IM2040","IM2050","RE2020","RE2030","RE2040","RE2050"],"paddingInner":0.18,"paddingOuter":0.09},"axis":null},"y":{"field":"v","type":"quantitative","scale":{"domain":[0,3500],"nice":false},"axis":{"values":[0,500,1000,1500,2000,2500,3000,3500],"tickCount":12,"labelOverlap":false,"title":null}},"order":{"field":"o","type":"quantitative"},"color":{"field":"cat","type":"nominal","scale":{"domain":["rd","ri","nrd","nri","_","emb","nc"],"range":["#4f9bd4","#d28c1a","#8a8a8a","#0f3c75","rgba(0,0,0,0)","#0b5a16","#c0c0c0"]},"legend":{"title":null,"orient":"none","legendX":55,"legendY":727,"columns":4,"direction":"horizontal","labelExpr":"datum.label=='rd'?'Residential direct emissions':datum.label=='ri'?'Residential indirect emissions':datum.label=='nrd'?'Non-residential direct emissions':datum.label=='nri'?'Non-residential indirect emissions':datum.label=='emb'?'Embodied emissions':datum.label=='nc'?'All buildings non-CO2 emissions':''"}}}},
{"transform":[{"filter":"datum.s!='H'"}],"mark":"bar","encoding":{"x":{"field":"k","type":"nominal"},"y":{"field":"v","type":"quantitative"},"order":{"field":"o","type":"quantitative"},"detail":{"field":"cat","type":"nominal"},"color":{"condition":[{"test":"datum.cat=='rd'","value":"#8dcaf0"},{"test":"datum.cat=='ri'","value":"#f4c46c"},{"test":"datum.cat=='nrd'","value":"#c4c4c4"},{"test":"datum.cat=='nri'","value":"#4d88d0"},{"test":"datum.cat=='emb'","value":"#a6db8e"}],"value":"#dddddd"}}},
{"transform":[{"filter":"datum.s!='H'&&datum.s!='RE'"}],"mark":"bar","encoding":{"x":{"field":"k","type":"nominal"},"y":{"field":"v","type":"quantitative"},"order":{"field":"o","type":"quantitative"},"detail":{"field":"cat","type":"nominal"},"color":{"condition":[{"test":"datum.s=='CP'","value":{"gradient":"linear","x1":0,"y1":1,"x2":1,"y2":0,"stops":[{"offset":0,"color":"rgba(0,0,0,0.45)"},{"offset":0.07,"color":"rgba(0,0,0,0.45)"},{"offset":0.07,"color":"transparent"},{"offset":0.1667,"color":"transparent"},{"offset":0.1667,"color":"rgba(0,0,0,0.45)"},{"offset":0.2367,"color":"rgba(0,0,0,0.45)"},{"offset":0.2367,"color":"transparent"},{"offset":0.3333,"color":"transparent"},{"offset":0.3333,"color":"rgba(0,0,0,0.45)"},{"offset":0.4033,"color":"rgba(0,0,0,0.45)"},{"offset":0.4033,"color":"transparent"},{"offset":0.5,"color":"transparent"},{"offset":0.5,"color":"rgba(0,0,0,0.45)"},{"offset":0.57,"color":"rgba(0,0,0,0.45)"},{"offset":0.57,"color":"transparent"},{"offset":0.6667,"color":"transparent"},{"offset":0.6667,"color":"rgba(0,0,0,0.45)"},{"offset":0.7367,"color":"rgba(0,0,0,0.45)"},{"offset":0.7367,"color":"transparent"},{"offset":0.8333,"color":"transparent"},{"offset":0.8333,"color":"rgba(0,0,0,0.45)"},{"offset":0.9033,"color":"rgba(0,0,0,0.45)"},{"offset":0.9033,"color":"transparent"},{"offset":1,"color":"transparent"}]}},{"test":"datum.s=='SD'","value":{"gradient":"linear","x1":0,"y1":0,"x2":0,"y2":1,"stops":[{"offset":0,"color":"rgba(0,0,0,0.45)"},{"offset":0.07,"color":"rgba(0,0,0,0.45)"},{"offset":0.07,"color":"transparent"},{"offset":0.1667,"color":"transparent"},{"offset":0.1667,"color":"rgba(0,0,0,0.45)"},{"offset":0.2367,"color":"rgba(0,0,0,0.45)"},{"offset":0.2367,"color":"transparent"},{"offset":0.3333,"color":"transparent"},{"offset":0.3333,"color":"rgba(0,0,0,0.45)"},{"offset":0.4033,"color":"rgba(0,0,0,0.45)"},{"offset":0.4033,"color":"transparent"},{"offset":0.5,"color":"transparent"},{"offset":0.5,"color":"rgba(0,0,0,0.45)"},{"offset":0.57,"color":"rgba(0,0,0,0.45)"},{"offset":0.57,"color":"transparent"},{"offset":0.6667,"color":"transparent"},{"offset":0.6667,"color":"rgba(0,0,0,0.45)"},{"offset":0.7367,"color":"rgba(0,0,0,0.45)"},{"offset":0.7367,"color":"transparent"},{"offset":0.8333,"color":"transparent"},{"offset":0.8333,"color":"rgba(0,0,0,0.45)"},{"offset":0.9033,"color":"rgba(0,0,0,0.45)"},{"offset":0.9033,"color":"transparent"},{"offset":1,"color":"transparent"}]}}],"value":{"gradient":"linear","x1":0,"y1":0,"x2":1,"y2":0,"stops":[{"offset":0,"color":"transparent"},{"offset":0.1,"color":"transparent"},{"offset":0.1,"color":"rgba(0,0,0,0.45)"},{"offset":0.23,"color":"rgba(0,0,0,0.45)"},{"offset":0.23,"color":"transparent"},{"offset":0.43,"color":"transparent"},{"offset":0.43,"color":"rgba(0,0,0,0.45)"},{"offset":0.56,"color":"rgba(0,0,0,0.45)"},{"offset":0.56,"color":"transparent"},{"offset":0.76,"color":"transparent"},{"offset":0.76,"color":"rgba(0,0,0,0.45)"},{"offset":0.89,"color":"rgba(0,0,0,0.45)"},{"offset":0.89,"color":"transparent"},{"offset":1,"color":"transparent"}]}}}},
{"data":{"values":[{}]},"mark":{"type":"text","align":"right","baseline":"top","dx":3,"dy":24,"fontSize":15,"color":"#333"},"encoding":{"x":{"datum":"RE2050","type":"nominal"},"y":{"datum":3500,"type":"quantitative"},"text":{"value":"Eastern Asia"}}}
]}
],"resolve":{"scale":{"x":"independent"}}}
],"spacing":50,"bounds":"flush"},
{"hconcat":[
{"width":325,"height":185,"layer":[
{"data":{"name":"groups"},"mark":{"type":"bar","opacity":0.75},"encoding":{"x":{"field":"g","type":"nominal","scale":{"domain":["H","CP","SD","IM","RE"],"paddingInner":0,"paddingOuter":0},"axis":null},"y":{"datum":3500,"type":"quantitative"},"y2":{"datum":0},"color":{"condition":[{"test":"datum.g=='H'","value":"#ececec"},{"test":"datum.g=='IM'","value":"#fadbb7"},{"test":"datum.g=='RE'","value":"#c7dcc3"}],"value":"#d0deee"}}},
{"data":{"name":"bars"},"transform":[{"filter":"datum.r=='EU'"},{"fold":["rd","ri","nrd","nri","emb","nc"],"as":["cat","v"]},{"lookup":"cat","from":{"data":{"name":"cats"},"key":"cat","fields":["o"]}}],"layer":[
{"mark":"bar","encoding":{"x":{"field":"k","type":"nominal","scale":{"domain":["H1990","H2000","H2010","H2019","CP2020","CP2030","CP2040","CP2050","SD2020","SD2030","SD2040","SD2050","IM2020","IM2030","IM2040","IM2050","RE2020","RE2030","RE2040","RE2050"],"paddingInner":0.18,"paddingOuter":0.09},"axis":null},"y":{"field":"v","type":"quantitative","scale":{"domain":[0,3500],"nice":false},"axis":{"values":[0,500,1000,1500,2000,2500,3000,3500],"tickCount":12,"labelOverlap":false,"title":"GHG Emissions (MtCO₂eq·yr⁻¹)","titleFontSize":13,"titleFontWeight":"normal","titleColor":"#333","titlePadding":36}},"order":{"field":"o","type":"quantitative"},"color":{"field":"cat","type":"nominal","scale":{"domain":["rd","ri","nrd","nri","_","emb","nc"],"range":["#4f9bd4","#d28c1a","#8a8a8a","#0f3c75","rgba(0,0,0,0)","#0b5a16","#c0c0c0"]},"legend":{"title":null,"orient":"none","legendX":55,"legendY":727,"columns":4,"direction":"horizontal","labelExpr":"datum.label=='rd'?'Residential direct emissions':datum.label=='ri'?'Residential indirect emissions':datum.label=='nrd'?'Non-residential direct emissions':datum.label=='nri'?'Non-residential indirect emissions':datum.label=='emb'?'Embodied emissions':datum.label=='nc'?'All buildings non-CO2 emissions':''"}}}},
{"transform":[{"filter":"datum.s!='H'"}],"mark":"bar","encoding":{"x":{"field":"k","type":"nominal"},"y":{"field":"v","type":"quantitative"},"order":{"field":"o","type":"quantitative"},"detail":{"field":"cat","type":"nominal"},"color":{"condition":[{"test":"datum.cat=='rd'","value":"#8dcaf0"},{"test":"datum.cat=='ri'","value":"#f4c46c"},{"test":"datum.cat=='nrd'","value":"#c4c4c4"},{"test":"datum.cat=='nri'","value":"#4d88d0"},{"test":"datum.cat=='emb'","value":"#a6db8e"}],"value":"#dddddd"}}},
{"transform":[{"filter":"datum.s!='H'&&datum.s!='RE'"}],"mark":"bar","encoding":{"x":{"field":"k","type":"nominal"},"y":{"field":"v","type":"quantitative"},"order":{"field":"o","type":"quantitative"},"detail":{"field":"cat","type":"nominal"},"color":{"condition":[{"test":"datum.s=='CP'","value":{"gradient":"linear","x1":0,"y1":1,"x2":1,"y2":0,"stops":[{"offset":0,"color":"rgba(0,0,0,0.45)"},{"offset":0.07,"color":"rgba(0,0,0,0.45)"},{"offset":0.07,"color":"transparent"},{"offset":0.1667,"color":"transparent"},{"offset":0.1667,"color":"rgba(0,0,0,0.45)"},{"offset":0.2367,"color":"rgba(0,0,0,0.45)"},{"offset":0.2367,"color":"transparent"},{"offset":0.3333,"color":"transparent"},{"offset":0.3333,"color":"rgba(0,0,0,0.45)"},{"offset":0.4033,"color":"rgba(0,0,0,0.45)"},{"offset":0.4033,"color":"transparent"},{"offset":0.5,"color":"transparent"},{"offset":0.5,"color":"rgba(0,0,0,0.45)"},{"offset":0.57,"color":"rgba(0,0,0,0.45)"},{"offset":0.57,"color":"transparent"},{"offset":0.6667,"color":"transparent"},{"offset":0.6667,"color":"rgba(0,0,0,0.45)"},{"offset":0.7367,"color":"rgba(0,0,0,0.45)"},{"offset":0.7367,"color":"transparent"},{"offset":0.8333,"color":"transparent"},{"offset":0.8333,"color":"rgba(0,0,0,0.45)"},{"offset":0.9033,"color":"rgba(0,0,0,0.45)"},{"offset":0.9033,"color":"transparent"},{"offset":1,"color":"transparent"}]}},{"test":"datum.s=='SD'","value":{"gradient":"linear","x1":0,"y1":0,"x2":0,"y2":1,"stops":[{"offset":0,"color":"rgba(0,0,0,0.45)"},{"offset":0.07,"color":"rgba(0,0,0,0.45)"},{"offset":0.07,"color":"transparent"},{"offset":0.1667,"color":"transparent"},{"offset":0.1667,"color":"rgba(0,0,0,0.45)"},{"offset":0.2367,"color":"rgba(0,0,0,0.45)"},{"offset":0.2367,"color":"transparent"},{"offset":0.3333,"color":"transparent"},{"offset":0.3333,"color":"rgba(0,0,0,0.45)"},{"offset":0.4033,"color":"rgba(0,0,0,0.45)"},{"offset":0.4033,"color":"transparent"},{"offset":0.5,"color":"transparent"},{"offset":0.5,"color":"rgba(0,0,0,0.45)"},{"offset":0.57,"color":"rgba(0,0,0,0.45)"},{"offset":0.57,"color":"transparent"},{"offset":0.6667,"color":"transparent"},{"offset":0.6667,"color":"rgba(0,0,0,0.45)"},{"offset":0.7367,"color":"rgba(0,0,0,0.45)"},{"offset":0.7367,"color":"transparent"},{"offset":0.8333,"color":"transparent"},{"offset":0.8333,"color":"rgba(0,0,0,0.45)"},{"offset":0.9033,"color":"rgba(0,0,0,0.45)"},{"offset":0.9033,"color":"transparent"},{"offset":1,"color":"transparent"}]}}],"value":{"gradient":"linear","x1":0,"y1":0,"x2":1,"y2":0,"stops":[{"offset":0,"color":"transparent"},{"offset":0.1,"color":"transparent"},{"offset":0.1,"color":"rgba(0,0,0,0.45)"},{"offset":0.23,"color":"rgba(0,0,0,0.45)"},{"offset":0.23,"color":"transparent"},{"offset":0.43,"color":"transparent"},{"offset":0.43,"color":"rgba(0,0,0,0.45)"},{"offset":0.56,"color":"rgba(0,0,0,0.45)"},{"offset":0.56,"color":"transparent"},{"offset":0.76,"color":"transparent"},{"offset":0.76,"color":"rgba(0,0,0,0.45)"},{"offset":0.89,"color":"rgba(0,0,0,0.45)"},{"offset":0.89,"color":"transparent"},{"offset":1,"color":"transparent"}]}}}},
{"data":{"values":[{}]},"mark":{"type":"text","align":"right","baseline":"top","dx":2,"dy":9,"fontSize":15,"color":"#333"},"encoding":{"x":{"datum":"RE2050","type":"nominal"},"y":{"datum":3500,"type":"quantitative"},"text":{"value":"Europe and Eurasia"}}}
]}
],"resolve":{"scale":{"x":"independent"}}},
{"width":322,"height":185,"layer":[
{"data":{"name":"groups"},"mark":{"type":"bar","opacity":0.75},"encoding":{"x":{"field":"g","type":"nominal","scale":{"domain":["H","CP","SD","IM","RE"],"paddingInner":0,"paddingOuter":0},"axis":null},"y":{"datum":900,"type":"quantitative"},"y2":{"datum":0},"color":{"condition":[{"test":"datum.g=='H'","value":"#ececec"},{"test":"datum.g=='IM'","value":"#fadbb7"},{"test":"datum.g=='RE'","value":"#c7dcc3"}],"value":"#d0deee"}}},
{"data":{"name":"bars"},"transform":[{"filter":"datum.r=='LA'"},{"fold":["rd","ri","nrd","nri","emb","nc"],"as":["cat","v"]},{"lookup":"cat","from":{"data":{"name":"cats"},"key":"cat","fields":["o"]}}],"layer":[
{"mark":"bar","encoding":{"x":{"field":"k","type":"nominal","scale":{"domain":["H1990","H2000","H2010","H2019","CP2020","CP2030","CP2040","CP2050","SD2020","SD2030","SD2040","SD2050","IM2020","IM2030","IM2040","IM2050","RE2020","RE2030","RE2040","RE2050"],"paddingInner":0.18,"paddingOuter":0.09},"axis":null},"y":{"field":"v","type":"quantitative","scale":{"domain":[0,900],"nice":false},"axis":{"values":[0,200,400,600,800],"tickCount":12,"labelOverlap":false,"title":null}},"order":{"field":"o","type":"quantitative"},"color":{"field":"cat","type":"nominal","scale":{"domain":["rd","ri","nrd","nri","_","emb","nc"],"range":["#4f9bd4","#d28c1a","#8a8a8a","#0f3c75","rgba(0,0,0,0)","#0b5a16","#c0c0c0"]},"legend":{"title":null,"orient":"none","legendX":55,"legendY":727,"columns":4,"direction":"horizontal","labelExpr":"datum.label=='rd'?'Residential direct emissions':datum.label=='ri'?'Residential indirect emissions':datum.label=='nrd'?'Non-residential direct emissions':datum.label=='nri'?'Non-residential indirect emissions':datum.label=='emb'?'Embodied emissions':datum.label=='nc'?'All buildings non-CO2 emissions':''"}}}},
{"transform":[{"filter":"datum.s!='H'"}],"mark":"bar","encoding":{"x":{"field":"k","type":"nominal"},"y":{"field":"v","type":"quantitative"},"order":{"field":"o","type":"quantitative"},"detail":{"field":"cat","type":"nominal"},"color":{"condition":[{"test":"datum.cat=='rd'","value":"#8dcaf0"},{"test":"datum.cat=='ri'","value":"#f4c46c"},{"test":"datum.cat=='nrd'","value":"#c4c4c4"},{"test":"datum.cat=='nri'","value":"#4d88d0"},{"test":"datum.cat=='emb'","value":"#a6db8e"}],"value":"#dddddd"}}},
{"transform":[{"filter":"datum.s!='H'&&datum.s!='RE'"}],"mark":"bar","encoding":{"x":{"field":"k","type":"nominal"},"y":{"field":"v","type":"quantitative"},"order":{"field":"o","type":"quantitative"},"detail":{"field":"cat","type":"nominal"},"color":{"condition":[{"test":"datum.s=='CP'","value":{"gradient":"linear","x1":0,"y1":1,"x2":1,"y2":0,"stops":[{"offset":0,"color":"rgba(0,0,0,0.45)"},{"offset":0.07,"color":"rgba(0,0,0,0.45)"},{"offset":0.07,"color":"transparent"},{"offset":0.1667,"color":"transparent"},{"offset":0.1667,"color":"rgba(0,0,0,0.45)"},{"offset":0.2367,"color":"rgba(0,0,0,0.45)"},{"offset":0.2367,"color":"transparent"},{"offset":0.3333,"color":"transparent"},{"offset":0.3333,"color":"rgba(0,0,0,0.45)"},{"offset":0.4033,"color":"rgba(0,0,0,0.45)"},{"offset":0.4033,"color":"transparent"},{"offset":0.5,"color":"transparent"},{"offset":0.5,"color":"rgba(0,0,0,0.45)"},{"offset":0.57,"color":"rgba(0,0,0,0.45)"},{"offset":0.57,"color":"transparent"},{"offset":0.6667,"color":"transparent"},{"offset":0.6667,"color":"rgba(0,0,0,0.45)"},{"offset":0.7367,"color":"rgba(0,0,0,0.45)"},{"offset":0.7367,"color":"transparent"},{"offset":0.8333,"color":"transparent"},{"offset":0.8333,"color":"rgba(0,0,0,0.45)"},{"offset":0.9033,"color":"rgba(0,0,0,0.45)"},{"offset":0.9033,"color":"transparent"},{"offset":1,"color":"transparent"}]}},{"test":"datum.s=='SD'","value":{"gradient":"linear","x1":0,"y1":0,"x2":0,"y2":1,"stops":[{"offset":0,"color":"rgba(0,0,0,0.45)"},{"offset":0.07,"color":"rgba(0,0,0,0.45)"},{"offset":0.07,"color":"transparent"},{"offset":0.1667,"color":"transparent"},{"offset":0.1667,"color":"rgba(0,0,0,0.45)"},{"offset":0.2367,"color":"rgba(0,0,0,0.45)"},{"offset":0.2367,"color":"transparent"},{"offset":0.3333,"color":"transparent"},{"offset":0.3333,"color":"rgba(0,0,0,0.45)"},{"offset":0.4033,"color":"rgba(0,0,0,0.45)"},{"offset":0.4033,"color":"transparent"},{"offset":0.5,"color":"transparent"},{"offset":0.5,"color":"rgba(0,0,0,0.45)"},{"offset":0.57,"color":"rgba(0,0,0,0.45)"},{"offset":0.57,"color":"transparent"},{"offset":0.6667,"color":"transparent"},{"offset":0.6667,"color":"rgba(0,0,0,0.45)"},{"offset":0.7367,"color":"rgba(0,0,0,0.45)"},{"offset":0.7367,"color":"transparent"},{"offset":0.8333,"color":"transparent"},{"offset":0.8333,"color":"rgba(0,0,0,0.45)"},{"offset":0.9033,"color":"rgba(0,0,0,0.45)"},{"offset":0.9033,"color":"transparent"},{"offset":1,"color":"transparent"}]}}],"value":{"gradient":"linear","x1":0,"y1":0,"x2":1,"y2":0,"stops":[{"offset":0,"color":"transparent"},{"offset":0.1,"color":"transparent"},{"offset":0.1,"color":"rgba(0,0,0,0.45)"},{"offset":0.23,"color":"rgba(0,0,0,0.45)"},{"offset":0.23,"color":"transparent"},{"offset":0.43,"color":"transparent"},{"offset":0.43,"color":"rgba(0,0,0,0.45)"},{"offset":0.56,"color":"rgba(0,0,0,0.45)"},{"offset":0.56,"color":"transparent"},{"offset":0.76,"color":"transparent"},{"offset":0.76,"color":"rgba(0,0,0,0.45)"},{"offset":0.89,"color":"rgba(0,0,0,0.45)"},{"offset":0.89,"color":"transparent"},{"offset":1,"color":"transparent"}]}}}},
{"data":{"values":[{}]},"mark":{"type":"text","align":"right","baseline":"top","dx":5,"dy":12,"fontSize":15,"color":"#333"},"encoding":{"x":{"datum":"RE2050","type":"nominal"},"y":{"datum":900,"type":"quantitative"},"text":{"value":"Latin America and Caribbean"}}}
]}
],"resolve":{"scale":{"x":"independent"}}},
{"width":312,"height":185,"layer":[
{"data":{"name":"groups"},"mark":{"type":"bar","opacity":0.75},"encoding":{"x":{"field":"g","type":"nominal","scale":{"domain":["H","CP","SD","IM","RE"],"paddingInner":0,"paddingOuter":0},"axis":null},"y":{"datum":2000,"type":"quantitative"},"y2":{"datum":0},"color":{"condition":[{"test":"datum.g=='H'","value":"#ececec"},{"test":"datum.g=='IM'","value":"#fadbb7"},{"test":"datum.g=='RE'","value":"#c7dcc3"}],"value":"#d0deee"}}},
{"data":{"name":"bars"},"transform":[{"filter":"datum.r=='ME'"},{"fold":["rd","ri","nrd","nri","emb","nc"],"as":["cat","v"]},{"lookup":"cat","from":{"data":{"name":"cats"},"key":"cat","fields":["o"]}}],"layer":[
{"mark":"bar","encoding":{"x":{"field":"k","type":"nominal","scale":{"domain":["H1990","H2000","H2010","H2019","CP2020","CP2030","CP2040","CP2050","SD2020","SD2030","SD2040","SD2050","IM2020","IM2030","IM2040","IM2050","RE2020","RE2030","RE2040","RE2050"],"paddingInner":0.18,"paddingOuter":0.09},"axis":null},"y":{"field":"v","type":"quantitative","scale":{"domain":[0,2000],"nice":false},"axis":{"values":[0,500,1000,1500,2000],"tickCount":12,"labelOverlap":false,"title":null}},"order":{"field":"o","type":"quantitative"},"color":{"field":"cat","type":"nominal","scale":{"domain":["rd","ri","nrd","nri","_","emb","nc"],"range":["#4f9bd4","#d28c1a","#8a8a8a","#0f3c75","rgba(0,0,0,0)","#0b5a16","#c0c0c0"]},"legend":{"title":null,"orient":"none","legendX":55,"legendY":727,"columns":4,"direction":"horizontal","labelExpr":"datum.label=='rd'?'Residential direct emissions':datum.label=='ri'?'Residential indirect emissions':datum.label=='nrd'?'Non-residential direct emissions':datum.label=='nri'?'Non-residential indirect emissions':datum.label=='emb'?'Embodied emissions':datum.label=='nc'?'All buildings non-CO2 emissions':''"}}}},
{"transform":[{"filter":"datum.s!='H'"}],"mark":"bar","encoding":{"x":{"field":"k","type":"nominal"},"y":{"field":"v","type":"quantitative"},"order":{"field":"o","type":"quantitative"},"detail":{"field":"cat","type":"nominal"},"color":{"condition":[{"test":"datum.cat=='rd'","value":"#8dcaf0"},{"test":"datum.cat=='ri'","value":"#f4c46c"},{"test":"datum.cat=='nrd'","value":"#c4c4c4"},{"test":"datum.cat=='nri'","value":"#4d88d0"},{"test":"datum.cat=='emb'","value":"#a6db8e"}],"value":"#dddddd"}}},
{"transform":[{"filter":"datum.s!='H'&&datum.s!='RE'"}],"mark":"bar","encoding":{"x":{"field":"k","type":"nominal"},"y":{"field":"v","type":"quantitative"},"order":{"field":"o","type":"quantitative"},"detail":{"field":"cat","type":"nominal"},"color":{"condition":[{"test":"datum.s=='CP'","value":{"gradient":"linear","x1":0,"y1":1,"x2":1,"y2":0,"stops":[{"offset":0,"color":"rgba(0,0,0,0.45)"},{"offset":0.07,"color":"rgba(0,0,0,0.45)"},{"offset":0.07,"color":"transparent"},{"offset":0.1667,"color":"transparent"},{"offset":0.1667,"color":"rgba(0,0,0,0.45)"},{"offset":0.2367,"color":"rgba(0,0,0,0.45)"},{"offset":0.2367,"color":"transparent"},{"offset":0.3333,"color":"transparent"},{"offset":0.3333,"color":"rgba(0,0,0,0.45)"},{"offset":0.4033,"color":"rgba(0,0,0,0.45)"},{"offset":0.4033,"color":"transparent"},{"offset":0.5,"color":"transparent"},{"offset":0.5,"color":"rgba(0,0,0,0.45)"},{"offset":0.57,"color":"rgba(0,0,0,0.45)"},{"offset":0.57,"color":"transparent"},{"offset":0.6667,"color":"transparent"},{"offset":0.6667,"color":"rgba(0,0,0,0.45)"},{"offset":0.7367,"color":"rgba(0,0,0,0.45)"},{"offset":0.7367,"color":"transparent"},{"offset":0.8333,"color":"transparent"},{"offset":0.8333,"color":"rgba(0,0,0,0.45)"},{"offset":0.9033,"color":"rgba(0,0,0,0.45)"},{"offset":0.9033,"color":"transparent"},{"offset":1,"color":"transparent"}]}},{"test":"datum.s=='SD'","value":{"gradient":"linear","x1":0,"y1":0,"x2":0,"y2":1,"stops":[{"offset":0,"color":"rgba(0,0,0,0.45)"},{"offset":0.07,"color":"rgba(0,0,0,0.45)"},{"offset":0.07,"color":"transparent"},{"offset":0.1667,"color":"transparent"},{"offset":0.1667,"color":"rgba(0,0,0,0.45)"},{"offset":0.2367,"color":"rgba(0,0,0,0.45)"},{"offset":0.2367,"color":"transparent"},{"offset":0.3333,"color":"transparent"},{"offset":0.3333,"color":"rgba(0,0,0,0.45)"},{"offset":0.4033,"color":"rgba(0,0,0,0.45)"},{"offset":0.4033,"color":"transparent"},{"offset":0.5,"color":"transparent"},{"offset":0.5,"color":"rgba(0,0,0,0.45)"},{"offset":0.57,"color":"rgba(0,0,0,0.45)"},{"offset":0.57,"color":"transparent"},{"offset":0.6667,"color":"transparent"},{"offset":0.6667,"color":"rgba(0,0,0,0.45)"},{"offset":0.7367,"color":"rgba(0,0,0,0.45)"},{"offset":0.7367,"color":"transparent"},{"offset":0.8333,"color":"transparent"},{"offset":0.8333,"color":"rgba(0,0,0,0.45)"},{"offset":0.9033,"color":"rgba(0,0,0,0.45)"},{"offset":0.9033,"color":"transparent"},{"offset":1,"color":"transparent"}]}}],"value":{"gradient":"linear","x1":0,"y1":0,"x2":1,"y2":0,"stops":[{"offset":0,"color":"transparent"},{"offset":0.1,"color":"transparent"},{"offset":0.1,"color":"rgba(0,0,0,0.45)"},{"offset":0.23,"color":"rgba(0,0,0,0.45)"},{"offset":0.23,"color":"transparent"},{"offset":0.43,"color":"transparent"},{"offset":0.43,"color":"rgba(0,0,0,0.45)"},{"offset":0.56,"color":"rgba(0,0,0,0.45)"},{"offset":0.56,"color":"transparent"},{"offset":0.76,"color":"transparent"},{"offset":0.76,"color":"rgba(0,0,0,0.45)"},{"offset":0.89,"color":"rgba(0,0,0,0.45)"},{"offset":0.89,"color":"transparent"},{"offset":1,"color":"transparent"}]}}}},
{"data":{"values":[{}]},"mark":{"type":"text","align":"right","baseline":"top","dx":3,"dy":18,"fontSize":15,"color":"#333"},"encoding":{"x":{"datum":"RE2050","type":"nominal"},"y":{"datum":2000,"type":"quantitative"},"text":{"value":"Middle East"}}}
]}
],"resolve":{"scale":{"x":"independent"}}}
],"spacing":50,"bounds":"flush"},
{"hconcat":[
{"width":325,"height":195,"layer":[
{"data":{"name":"groups"},"mark":{"type":"bar","opacity":0.75},"encoding":{"x":{"field":"g","type":"nominal","scale":{"domain":["H","CP","SD","IM","RE"],"paddingInner":0,"paddingOuter":0},"axis":null},"y":{"datum":3000,"type":"quantitative"},"y2":{"datum":0},"color":{"condition":[{"test":"datum.g=='H'","value":"#ececec"},{"test":"datum.g=='IM'","value":"#fadbb7"},{"test":"datum.g=='RE'","value":"#c7dcc3"}],"value":"#d0deee"}}},
{"data":{"name":"bars"},"transform":[{"filter":"datum.r=='NA'"},{"fold":["rd","ri","nrd","nri","emb","nc"],"as":["cat","v"]},{"lookup":"cat","from":{"data":{"name":"cats"},"key":"cat","fields":["o"]}}],"layer":[
{"mark":"bar","encoding":{"x":{"field":"k","type":"nominal","scale":{"domain":["H1990","H2000","H2010","H2019","CP2020","CP2030","CP2040","CP2050","SD2020","SD2030","SD2040","SD2050","IM2020","IM2030","IM2040","IM2050","RE2020","RE2030","RE2040","RE2050"],"paddingInner":0.18,"paddingOuter":0.09},"axis":null},"y":{"field":"v","type":"quantitative","scale":{"domain":[0,3000],"nice":false},"axis":{"values":[0,500,1000,1500,2000,2500,3000],"tickCount":12,"labelOverlap":false,"title":"G","titleColor":"transparent","titleFontSize":13,"titlePadding":36}},"order":{"field":"o","type":"quantitative"},"color":{"field":"cat","type":"nominal","scale":{"domain":["rd","ri","nrd","nri","_","emb","nc"],"range":["#4f9bd4","#d28c1a","#8a8a8a","#0f3c75","rgba(0,0,0,0)","#0b5a16","#c0c0c0"]},"legend":{"title":null,"orient":"none","legendX":55,"legendY":727,"columns":4,"direction":"horizontal","labelExpr":"datum.label=='rd'?'Residential direct emissions':datum.label=='ri'?'Residential indirect emissions':datum.label=='nrd'?'Non-residential direct emissions':datum.label=='nri'?'Non-residential indirect emissions':datum.label=='emb'?'Embodied emissions':datum.label=='nc'?'All buildings non-CO2 emissions':''"}}}},
{"transform":[{"filter":"datum.s!='H'"}],"mark":"bar","encoding":{"x":{"field":"k","type":"nominal"},"y":{"field":"v","type":"quantitative"},"order":{"field":"o","type":"quantitative"},"detail":{"field":"cat","type":"nominal"},"color":{"condition":[{"test":"datum.cat=='rd'","value":"#8dcaf0"},{"test":"datum.cat=='ri'","value":"#f4c46c"},{"test":"datum.cat=='nrd'","value":"#c4c4c4"},{"test":"datum.cat=='nri'","value":"#4d88d0"},{"test":"datum.cat=='emb'","value":"#a6db8e"}],"value":"#dddddd"}}},
{"transform":[{"filter":"datum.s!='H'&&datum.s!='RE'"}],"mark":"bar","encoding":{"x":{"field":"k","type":"nominal"},"y":{"field":"v","type":"quantitative"},"order":{"field":"o","type":"quantitative"},"detail":{"field":"cat","type":"nominal"},"color":{"condition":[{"test":"datum.s=='CP'","value":{"gradient":"linear","x1":0,"y1":1,"x2":1,"y2":0,"stops":[{"offset":0,"color":"rgba(0,0,0,0.45)"},{"offset":0.07,"color":"rgba(0,0,0,0.45)"},{"offset":0.07,"color":"transparent"},{"offset":0.1667,"color":"transparent"},{"offset":0.1667,"color":"rgba(0,0,0,0.45)"},{"offset":0.2367,"color":"rgba(0,0,0,0.45)"},{"offset":0.2367,"color":"transparent"},{"offset":0.3333,"color":"transparent"},{"offset":0.3333,"color":"rgba(0,0,0,0.45)"},{"offset":0.4033,"color":"rgba(0,0,0,0.45)"},{"offset":0.4033,"color":"transparent"},{"offset":0.5,"color":"transparent"},{"offset":0.5,"color":"rgba(0,0,0,0.45)"},{"offset":0.57,"color":"rgba(0,0,0,0.45)"},{"offset":0.57,"color":"transparent"},{"offset":0.6667,"color":"transparent"},{"offset":0.6667,"color":"rgba(0,0,0,0.45)"},{"offset":0.7367,"color":"rgba(0,0,0,0.45)"},{"offset":0.7367,"color":"transparent"},{"offset":0.8333,"color":"transparent"},{"offset":0.8333,"color":"rgba(0,0,0,0.45)"},{"offset":0.9033,"color":"rgba(0,0,0,0.45)"},{"offset":0.9033,"color":"transparent"},{"offset":1,"color":"transparent"}]}},{"test":"datum.s=='SD'","value":{"gradient":"linear","x1":0,"y1":0,"x2":0,"y2":1,"stops":[{"offset":0,"color":"rgba(0,0,0,0.45)"},{"offset":0.07,"color":"rgba(0,0,0,0.45)"},{"offset":0.07,"color":"transparent"},{"offset":0.1667,"color":"transparent"},{"offset":0.1667,"color":"rgba(0,0,0,0.45)"},{"offset":0.2367,"color":"rgba(0,0,0,0.45)"},{"offset":0.2367,"color":"transparent"},{"offset":0.3333,"color":"transparent"},{"offset":0.3333,"color":"rgba(0,0,0,0.45)"},{"offset":0.4033,"color":"rgba(0,0,0,0.45)"},{"offset":0.4033,"color":"transparent"},{"offset":0.5,"color":"transparent"},{"offset":0.5,"color":"rgba(0,0,0,0.45)"},{"offset":0.57,"color":"rgba(0,0,0,0.45)"},{"offset":0.57,"color":"transparent"},{"offset":0.6667,"color":"transparent"},{"offset":0.6667,"color":"rgba(0,0,0,0.45)"},{"offset":0.7367,"color":"rgba(0,0,0,0.45)"},{"offset":0.7367,"color":"transparent"},{"offset":0.8333,"color":"transparent"},{"offset":0.8333,"color":"rgba(0,0,0,0.45)"},{"offset":0.9033,"color":"rgba(0,0,0,0.45)"},{"offset":0.9033,"color":"transparent"},{"offset":1,"color":"transparent"}]}}],"value":{"gradient":"linear","x1":0,"y1":0,"x2":1,"y2":0,"stops":[{"offset":0,"color":"transparent"},{"offset":0.1,"color":"transparent"},{"offset":0.1,"color":"rgba(0,0,0,0.45)"},{"offset":0.23,"color":"rgba(0,0,0,0.45)"},{"offset":0.23,"color":"transparent"},{"offset":0.43,"color":"transparent"},{"offset":0.43,"color":"rgba(0,0,0,0.45)"},{"offset":0.56,"color":"rgba(0,0,0,0.45)"},{"offset":0.56,"color":"transparent"},{"offset":0.76,"color":"transparent"},{"offset":0.76,"color":"rgba(0,0,0,0.45)"},{"offset":0.89,"color":"rgba(0,0,0,0.45)"},{"offset":0.89,"color":"transparent"},{"offset":1,"color":"transparent"}]}}}},
{"data":{"values":[{}]},"mark":{"type":"text","align":"right","baseline":"top","dx":-9,"dy":9,"fontSize":15,"color":"#333"},"encoding":{"x":{"datum":"RE2050","type":"nominal"},"y":{"datum":3000,"type":"quantitative"},"text":{"value":"North America"}}}
]}
],"resolve":{"scale":{"x":"independent"}}},
{"width":322,"height":195,"layer":[
{"data":{"name":"groups"},"mark":{"type":"bar","opacity":0.75},"encoding":{"x":{"field":"g","type":"nominal","scale":{"domain":["H","CP","SD","IM","RE"],"paddingInner":0,"paddingOuter":0},"axis":null},"y":{"datum":2500,"type":"quantitative"},"y2":{"datum":-500},"color":{"condition":[{"test":"datum.g=='H'","value":"#ececec"},{"test":"datum.g=='IM'","value":"#fadbb7"},{"test":"datum.g=='RE'","value":"#c7dcc3"}],"value":"#d0deee"}}},
{"data":{"name":"bars"},"transform":[{"filter":"datum.r=='SE'"},{"fold":["rd","ri","nrd","nri","emb","nc"],"as":["cat","v"]},{"lookup":"cat","from":{"data":{"name":"cats"},"key":"cat","fields":["o"]}}],"layer":[
{"mark":"bar","encoding":{"x":{"field":"k","type":"nominal","scale":{"domain":["H1990","H2000","H2010","H2019","CP2020","CP2030","CP2040","CP2050","SD2020","SD2030","SD2040","SD2050","IM2020","IM2030","IM2040","IM2050","RE2020","RE2030","RE2040","RE2050"],"paddingInner":0.18,"paddingOuter":0.09},"axis":null},"y":{"field":"v","type":"quantitative","scale":{"domain":[-500,2500],"nice":false},"axis":{"values":[-500,0,500,1000,1500,2000,2500],"tickCount":12,"labelOverlap":false,"title":null}},"order":{"field":"o","type":"quantitative"},"color":{"field":"cat","type":"nominal","scale":{"domain":["rd","ri","nrd","nri","_","emb","nc"],"range":["#4f9bd4","#d28c1a","#8a8a8a","#0f3c75","rgba(0,0,0,0)","#0b5a16","#c0c0c0"]},"legend":{"title":null,"orient":"none","legendX":55,"legendY":727,"columns":4,"direction":"horizontal","labelExpr":"datum.label=='rd'?'Residential direct emissions':datum.label=='ri'?'Residential indirect emissions':datum.label=='nrd'?'Non-residential direct emissions':datum.label=='nri'?'Non-residential indirect emissions':datum.label=='emb'?'Embodied emissions':datum.label=='nc'?'All buildings non-CO2 emissions':''"}}}},
{"transform":[{"filter":"datum.s!='H'"}],"mark":"bar","encoding":{"x":{"field":"k","type":"nominal"},"y":{"field":"v","type":"quantitative"},"order":{"field":"o","type":"quantitative"},"detail":{"field":"cat","type":"nominal"},"color":{"condition":[{"test":"datum.cat=='rd'","value":"#8dcaf0"},{"test":"datum.cat=='ri'","value":"#f4c46c"},{"test":"datum.cat=='nrd'","value":"#c4c4c4"},{"test":"datum.cat=='nri'","value":"#4d88d0"},{"test":"datum.cat=='emb'","value":"#a6db8e"}],"value":"#dddddd"}}},
{"transform":[{"filter":"datum.s!='H'&&datum.s!='RE'"}],"mark":"bar","encoding":{"x":{"field":"k","type":"nominal"},"y":{"field":"v","type":"quantitative"},"order":{"field":"o","type":"quantitative"},"detail":{"field":"cat","type":"nominal"},"color":{"condition":[{"test":"datum.s=='CP'","value":{"gradient":"linear","x1":0,"y1":1,"x2":1,"y2":0,"stops":[{"offset":0,"color":"rgba(0,0,0,0.45)"},{"offset":0.07,"color":"rgba(0,0,0,0.45)"},{"offset":0.07,"color":"transparent"},{"offset":0.1667,"color":"transparent"},{"offset":0.1667,"color":"rgba(0,0,0,0.45)"},{"offset":0.2367,"color":"rgba(0,0,0,0.45)"},{"offset":0.2367,"color":"transparent"},{"offset":0.3333,"color":"transparent"},{"offset":0.3333,"color":"rgba(0,0,0,0.45)"},{"offset":0.4033,"color":"rgba(0,0,0,0.45)"},{"offset":0.4033,"color":"transparent"},{"offset":0.5,"color":"transparent"},{"offset":0.5,"color":"rgba(0,0,0,0.45)"},{"offset":0.57,"color":"rgba(0,0,0,0.45)"},{"offset":0.57,"color":"transparent"},{"offset":0.6667,"color":"transparent"},{"offset":0.6667,"color":"rgba(0,0,0,0.45)"},{"offset":0.7367,"color":"rgba(0,0,0,0.45)"},{"offset":0.7367,"color":"transparent"},{"offset":0.8333,"color":"transparent"},{"offset":0.8333,"color":"rgba(0,0,0,0.45)"},{"offset":0.9033,"color":"rgba(0,0,0,0.45)"},{"offset":0.9033,"color":"transparent"},{"offset":1,"color":"transparent"}]}},{"test":"datum.s=='SD'","value":{"gradient":"linear","x1":0,"y1":0,"x2":0,"y2":1,"stops":[{"offset":0,"color":"rgba(0,0,0,0.45)"},{"offset":0.07,"color":"rgba(0,0,0,0.45)"},{"offset":0.07,"color":"transparent"},{"offset":0.1667,"color":"transparent"},{"offset":0.1667,"color":"rgba(0,0,0,0.45)"},{"offset":0.2367,"color":"rgba(0,0,0,0.45)"},{"offset":0.2367,"color":"transparent"},{"offset":0.3333,"color":"transparent"},{"offset":0.3333,"color":"rgba(0,0,0,0.45)"},{"offset":0.4033,"color":"rgba(0,0,0,0.45)"},{"offset":0.4033,"color":"transparent"},{"offset":0.5,"color":"transparent"},{"offset":0.5,"color":"rgba(0,0,0,0.45)"},{"offset":0.57,"color":"rgba(0,0,0,0.45)"},{"offset":0.57,"color":"transparent"},{"offset":0.6667,"color":"transparent"},{"offset":0.6667,"color":"rgba(0,0,0,0.45)"},{"offset":0.7367,"color":"rgba(0,0,0,0.45)"},{"offset":0.7367,"color":"transparent"},{"offset":0.8333,"color":"transparent"},{"offset":0.8333,"color":"rgba(0,0,0,0.45)"},{"offset":0.9033,"color":"rgba(0,0,0,0.45)"},{"offset":0.9033,"color":"transparent"},{"offset":1,"color":"transparent"}]}}],"value":{"gradient":"linear","x1":0,"y1":0,"x2":1,"y2":0,"stops":[{"offset":0,"color":"transparent"},{"offset":0.1,"color":"transparent"},{"offset":0.1,"color":"rgba(0,0,0,0.45)"},{"offset":0.23,"color":"rgba(0,0,0,0.45)"},{"offset":0.23,"color":"transparent"},{"offset":0.43,"color":"transparent"},{"offset":0.43,"color":"rgba(0,0,0,0.45)"},{"offset":0.56,"color":"rgba(0,0,0,0.45)"},{"offset":0.56,"color":"transparent"},{"offset":0.76,"color":"transparent"},{"offset":0.76,"color":"rgba(0,0,0,0.45)"},{"offset":0.89,"color":"rgba(0,0,0,0.45)"},{"offset":0.89,"color":"transparent"},{"offset":1,"color":"transparent"}]}}}},
{"data":{"values":[{}]},"mark":{"type":"text","align":"right","baseline":"top","dx":2,"dy":12,"fontSize":15,"color":"#333"},"encoding":{"x":{"datum":"RE2050","type":"nominal"},"y":{"datum":2500,"type":"quantitative"},"text":{"value":"South East Asia and developing Pacific"}}}
]}
],"resolve":{"scale":{"x":"independent"}}},
{"width":312,"height":195,"layer":[
{"data":{"name":"groups"},"mark":{"type":"bar","opacity":0.75},"encoding":{"x":{"field":"g","type":"nominal","scale":{"domain":["H","CP","SD","IM","RE"],"paddingInner":0,"paddingOuter":0},"axis":null},"y":{"datum":3000,"type":"quantitative"},"y2":{"datum":0},"color":{"condition":[{"test":"datum.g=='H'","value":"#ececec"},{"test":"datum.g=='IM'","value":"#fadbb7"},{"test":"datum.g=='RE'","value":"#c7dcc3"}],"value":"#d0deee"}}},
{"data":{"name":"bars"},"transform":[{"filter":"datum.r=='SA'"},{"fold":["rd","ri","nrd","nri","emb","nc"],"as":["cat","v"]},{"lookup":"cat","from":{"data":{"name":"cats"},"key":"cat","fields":["o"]}}],"layer":[
{"mark":"bar","encoding":{"x":{"field":"k","type":"nominal","scale":{"domain":["H1990","H2000","H2010","H2019","CP2020","CP2030","CP2040","CP2050","SD2020","SD2030","SD2040","SD2050","IM2020","IM2030","IM2040","IM2050","RE2020","RE2030","RE2040","RE2050"],"paddingInner":0.18,"paddingOuter":0.09},"axis":null},"y":{"field":"v","type":"quantitative","scale":{"domain":[0,3000],"nice":false},"axis":{"values":[0,500,1000,1500,2000,2500,3000],"tickCount":12,"labelOverlap":false,"title":null}},"order":{"field":"o","type":"quantitative"},"color":{"field":"cat","type":"nominal","scale":{"domain":["rd","ri","nrd","nri","_","emb","nc"],"range":["#4f9bd4","#d28c1a","#8a8a8a","#0f3c75","rgba(0,0,0,0)","#0b5a16","#c0c0c0"]},"legend":{"title":null,"orient":"none","legendX":55,"legendY":727,"columns":4,"direction":"horizontal","labelExpr":"datum.label=='rd'?'Residential direct emissions':datum.label=='ri'?'Residential indirect emissions':datum.label=='nrd'?'Non-residential direct emissions':datum.label=='nri'?'Non-residential indirect emissions':datum.label=='emb'?'Embodied emissions':datum.label=='nc'?'All buildings non-CO2 emissions':''"}}}},
{"transform":[{"filter":"datum.s!='H'"}],"mark":"bar","encoding":{"x":{"field":"k","type":"nominal"},"y":{"field":"v","type":"quantitative"},"order":{"field":"o","type":"quantitative"},"detail":{"field":"cat","type":"nominal"},"color":{"condition":[{"test":"datum.cat=='rd'","value":"#8dcaf0"},{"test":"datum.cat=='ri'","value":"#f4c46c"},{"test":"datum.cat=='nrd'","value":"#c4c4c4"},{"test":"datum.cat=='nri'","value":"#4d88d0"},{"test":"datum.cat=='emb'","value":"#a6db8e"}],"value":"#dddddd"}}},
{"transform":[{"filter":"datum.s!='H'&&datum.s!='RE'"}],"mark":"bar","encoding":{"x":{"field":"k","type":"nominal"},"y":{"field":"v","type":"quantitative"},"order":{"field":"o","type":"quantitative"},"detail":{"field":"cat","type":"nominal"},"color":{"condition":[{"test":"datum.s=='CP'","value":{"gradient":"linear","x1":0,"y1":1,"x2":1,"y2":0,"stops":[{"offset":0,"color":"rgba(0,0,0,0.45)"},{"offset":0.07,"color":"rgba(0,0,0,0.45)"},{"offset":0.07,"color":"transparent"},{"offset":0.1667,"color":"transparent"},{"offset":0.1667,"color":"rgba(0,0,0,0.45)"},{"offset":0.2367,"color":"rgba(0,0,0,0.45)"},{"offset":0.2367,"color":"transparent"},{"offset":0.3333,"color":"transparent"},{"offset":0.3333,"color":"rgba(0,0,0,0.45)"},{"offset":0.4033,"color":"rgba(0,0,0,0.45)"},{"offset":0.4033,"color":"transparent"},{"offset":0.5,"color":"transparent"},{"offset":0.5,"color":"rgba(0,0,0,0.45)"},{"offset":0.57,"color":"rgba(0,0,0,0.45)"},{"offset":0.57,"color":"transparent"},{"offset":0.6667,"color":"transparent"},{"offset":0.6667,"color":"rgba(0,0,0,0.45)"},{"offset":0.7367,"color":"rgba(0,0,0,0.45)"},{"offset":0.7367,"color":"transparent"},{"offset":0.8333,"color":"transparent"},{"offset":0.8333,"color":"rgba(0,0,0,0.45)"},{"offset":0.9033,"color":"rgba(0,0,0,0.45)"},{"offset":0.9033,"color":"transparent"},{"offset":1,"color":"transparent"}]}},{"test":"datum.s=='SD'","value":{"gradient":"linear","x1":0,"y1":0,"x2":0,"y2":1,"stops":[{"offset":0,"color":"rgba(0,0,0,0.45)"},{"offset":0.07,"color":"rgba(0,0,0,0.45)"},{"offset":0.07,"color":"transparent"},{"offset":0.1667,"color":"transparent"},{"offset":0.1667,"color":"rgba(0,0,0,0.45)"},{"offset":0.2367,"color":"rgba(0,0,0,0.45)"},{"offset":0.2367,"color":"transparent"},{"offset":0.3333,"color":"transparent"},{"offset":0.3333,"color":"rgba(0,0,0,0.45)"},{"offset":0.4033,"color":"rgba(0,0,0,0.45)"},{"offset":0.4033,"color":"transparent"},{"offset":0.5,"color":"transparent"},{"offset":0.5,"color":"rgba(0,0,0,0.45)"},{"offset":0.57,"color":"rgba(0,0,0,0.45)"},{"offset":0.57,"color":"transparent"},{"offset":0.6667,"color":"transparent"},{"offset":0.6667,"color":"rgba(0,0,0,0.45)"},{"offset":0.7367,"color":"rgba(0,0,0,0.45)"},{"offset":0.7367,"color":"transparent"},{"offset":0.8333,"color":"transparent"},{"offset":0.8333,"color":"rgba(0,0,0,0.45)"},{"offset":0.9033,"color":"rgba(0,0,0,0.45)"},{"offset":0.9033,"color":"transparent"},{"offset":1,"color":"transparent"}]}}],"value":{"gradient":"linear","x1":0,"y1":0,"x2":1,"y2":0,"stops":[{"offset":0,"color":"transparent"},{"offset":0.1,"color":"transparent"},{"offset":0.1,"color":"rgba(0,0,0,0.45)"},{"offset":0.23,"color":"rgba(0,0,0,0.45)"},{"offset":0.23,"color":"transparent"},{"offset":0.43,"color":"transparent"},{"offset":0.43,"color":"rgba(0,0,0,0.45)"},{"offset":0.56,"color":"rgba(0,0,0,0.45)"},{"offset":0.56,"color":"transparent"},{"offset":0.76,"color":"transparent"},{"offset":0.76,"color":"rgba(0,0,0,0.45)"},{"offset":0.89,"color":"rgba(0,0,0,0.45)"},{"offset":0.89,"color":"transparent"},{"offset":1,"color":"transparent"}]}}}},
{"data":{"values":[{}]},"mark":{"type":"text","align":"right","baseline":"top","dx":3,"dy":12,"fontSize":15,"color":"#333"},"encoding":{"x":{"datum":"RE2050","type":"nominal"},"y":{"datum":3000,"type":"quantitative"},"text":{"value":"Southern Asia"}}}
]}
],"resolve":{"scale":{"x":"independent"}}}
],"spacing":50,"bounds":"flush"},
{"hconcat":[
{"width":325,"height":112,"layer":[
{"data":{"name":"groups"},"layer":[
{"mark":{"type":"bar","opacity":0.75},"encoding":{"x":{"field":"g","type":"nominal","scale":{"domain":["H","CP","SD","IM","RE"],"paddingInner":0,"paddingOuter":0},"axis":null},"y":{"datum":0,"type":"quantitative","scale":{"domain":[0,1],"nice":false},"axis":{"labels":false,"grid":false,"title":"G","titleColor":"transparent","titleFontSize":13,"titlePadding":36}},"y2":{"datum":1},"color":{"condition":[{"test":"datum.g=='H'","value":"#ececec"},{"test":"datum.g=='IM'","value":"#fadbb7"},{"test":"datum.g=='RE'","value":"#c7dcc3"}],"value":"#d0deee"}}},
{"mark":{"type":"text","baseline":"top","lineBreak":"|","lineHeight":15.5,"fontSize":11.5,"color":"#222"},"encoding":{"x":{"field":"g","type":"nominal"},"y":{"datum":0.61,"type":"quantitative"},"text":{"field":"lab"}}}
]},
{"data":{"name":"bars"},"transform":[{"filter":"datum.r=='NA'"}],"mark":{"type":"text","angle":270,"align":"right","baseline":"middle","dx":0,"fontSize":10,"color":"#595959"},"encoding":{"x":{"field":"k","type":"nominal","scale":{"domain":["H1990","H2000","H2010","H2019","CP2020","CP2030","CP2040","CP2050","SD2020","SD2030","SD2040","SD2050","IM2020","IM2030","IM2040","IM2050","RE2020","RE2030","RE2040","RE2050"],"paddingInner":0.18,"paddingOuter":0.09},"axis":null},"y":{"datum":1,"type":"quantitative"},"text":{"field":"yr"}}}
],"resolve":{"scale":{"x":"independent"}}},
{"width":322,"height":112,"layer":[
{"data":{"name":"groups"},"layer":[
{"mark":{"type":"bar","opacity":0.75},"encoding":{"x":{"field":"g","type":"nominal","scale":{"domain":["H","CP","SD","IM","RE"],"paddingInner":0,"paddingOuter":0},"axis":null},"y":{"datum":0,"type":"quantitative","scale":{"domain":[0,1],"nice":false},"axis":null},"y2":{"datum":1},"color":{"condition":[{"test":"datum.g=='H'","value":"#ececec"},{"test":"datum.g=='IM'","value":"#fadbb7"},{"test":"datum.g=='RE'","value":"#c7dcc3"}],"value":"#d0deee"}}},
{"mark":{"type":"text","baseline":"top","lineBreak":"|","lineHeight":15.5,"fontSize":11.5,"color":"#222"},"encoding":{"x":{"field":"g","type":"nominal"},"y":{"datum":0.61,"type":"quantitative","axis":null},"text":{"field":"lab"}}}
]},
{"data":{"name":"bars"},"transform":[{"filter":"datum.r=='SE'"}],"mark":{"type":"text","angle":270,"align":"right","baseline":"middle","dx":0,"fontSize":10,"color":"#595959"},"encoding":{"x":{"field":"k","type":"nominal","scale":{"domain":["H1990","H2000","H2010","H2019","CP2020","CP2030","CP2040","CP2050","SD2020","SD2030","SD2040","SD2050","IM2020","IM2030","IM2040","IM2050","RE2020","RE2030","RE2040","RE2050"],"paddingInner":0.18,"paddingOuter":0.09},"axis":null},"y":{"datum":1,"type":"quantitative","axis":null},"text":{"field":"yr"}}}
],"resolve":{"scale":{"x":"independent"}}},
{"width":312,"height":112,"layer":[
{"data":{"name":"groups"},"layer":[
{"mark":{"type":"bar","opacity":0.75},"encoding":{"x":{"field":"g","type":"nominal","scale":{"domain":["H","CP","SD","IM","RE"],"paddingInner":0,"paddingOuter":0},"axis":null},"y":{"datum":0,"type":"quantitative","scale":{"domain":[0,1],"nice":false},"axis":null},"y2":{"datum":1},"color":{"condition":[{"test":"datum.g=='H'","value":"#ececec"},{"test":"datum.g=='IM'","value":"#fadbb7"},{"test":"datum.g=='RE'","value":"#c7dcc3"}],"value":"#d0deee"}}},
{"mark":{"type":"text","baseline":"top","lineBreak":"|","lineHeight":15.5,"fontSize":11.5,"color":"#222"},"encoding":{"x":{"field":"g","type":"nominal"},"y":{"datum":0.61,"type":"quantitative","axis":null},"text":{"field":"lab"}}}
]},
{"data":{"name":"bars"},"transform":[{"filter":"datum.r=='SA'"}],"mark":{"type":"text","angle":270,"align":"right","baseline":"middle","dx":0,"fontSize":10,"color":"#595959"},"encoding":{"x":{"field":"k","type":"nominal","scale":{"domain":["H1990","H2000","H2010","H2019","CP2020","CP2030","CP2040","CP2050","SD2020","SD2030","SD2040","SD2050","IM2020","IM2030","IM2040","IM2050","RE2020","RE2030","RE2040","RE2050"],"paddingInner":0.18,"paddingOuter":0.09},"axis":null},"y":{"datum":1,"type":"quantitative","axis":null},"text":{"field":"yr"}}}
],"resolve":{"scale":{"x":"independent"}}}
],"spacing":50,"bounds":"flush"}
],
"spacing":1,
"config":{"font":"Lato","view":{"stroke":null},"axisY":{"format":"d","labelOverlap":false,"minExtent":40,"maxExtent":40,"labelFontSize":13.5,"labelColor":"#595959","domain":false,"ticks":false,"gridColor":"#a9a9a9","gridWidth":0.8,"labelPadding":8},"legend":{"symbolType":"square","symbolSize":200,"labelFontSize":12.5,"labelColor":"#222","columnPadding":24,"rowPadding":6,"labelLimit":300,"symbolStrokeWidth":0,"labelOffset":7}}
}
